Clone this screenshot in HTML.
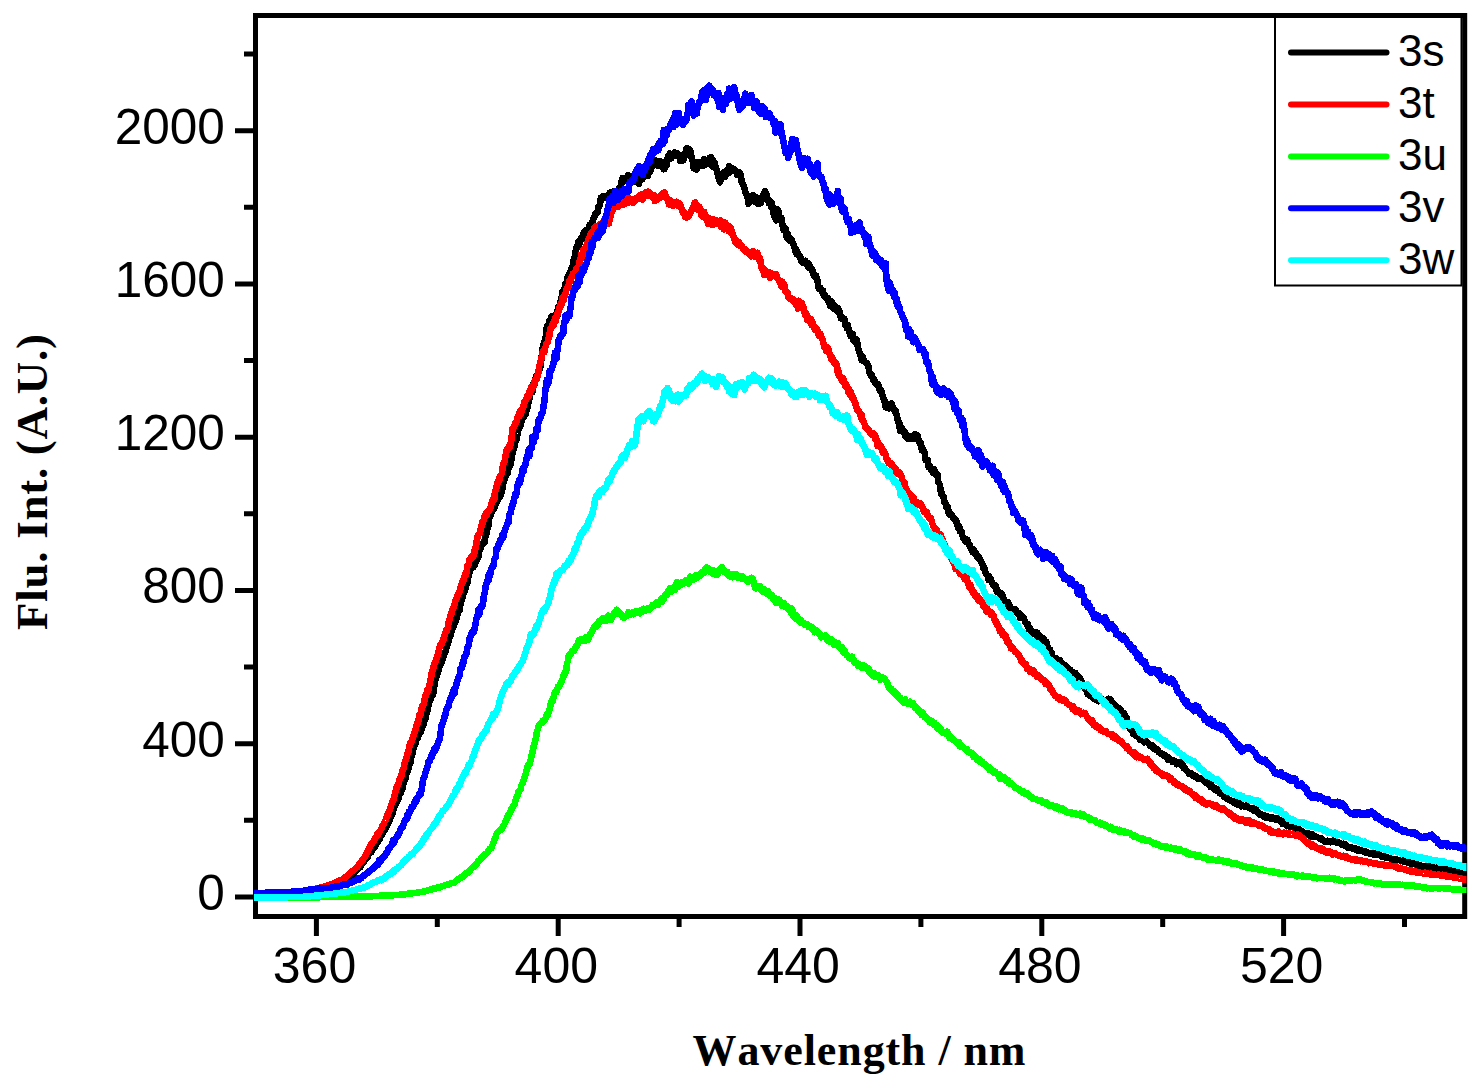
<!DOCTYPE html>
<html><head><meta charset="utf-8"><style>
html,body{margin:0;padding:0;background:#fff;width:1480px;height:1089px;overflow:hidden}
svg{display:block}
.t{font-family:"Liberation Sans",sans-serif;font-size:50px;fill:#000}
.b{font-family:"Liberation Serif",serif;font-weight:bold;font-size:45px;fill:#000;font-kerning:none}
</style></head><body>
<svg width="1480" height="1089" viewBox="0 0 1480 1089">
<defs><clipPath id="pc"><rect x="254" y="13" width="1212.5" height="905"/></clipPath></defs>

<rect x="255.5" y="15.5" width="1209.2" height="901" fill="none" stroke="#000" stroke-width="5"/>
<g clip-path="url(#pc)" fill="none" stroke-width="6.6" stroke-linejoin="round" stroke-linecap="round" shape-rendering="crispEdges">
<polyline stroke="#000000" points="255.0,893.8 255.8,893.9 256.5,893.8 257.2,893.6 258.0,893.8 258.8,893.7 259.5,893.6 260.2,893.7 261.0,893.7 261.8,893.6 262.5,893.6 263.2,893.6 264.0,893.4 264.8,893.5 265.5,893.4 266.2,893.6 267.0,893.5 267.8,893.4 268.5,893.3 269.2,893.4 270.0,893.4 270.8,893.3 271.5,893.5 272.2,893.4 273.0,892.9 273.8,893.0 274.5,893.2 275.2,893.2 276.0,893.2 276.8,893.2 277.5,893.4 278.2,893.0 279.0,893.1 279.8,893.4 280.5,893.2 281.2,893.1 282.0,892.9 282.8,892.8 283.5,893.0 284.2,893.0 285.0,892.8 285.8,892.8 286.5,892.9 287.2,892.7 288.0,892.8 288.8,892.8 289.5,892.8 290.2,892.7 291.0,892.8 291.8,892.9 292.5,892.8 293.2,892.6 294.0,892.8 294.8,892.6 295.5,892.8 296.2,892.4 297.0,892.7 297.8,892.6 298.5,892.4 299.2,892.5 300.0,892.5 300.8,892.4 301.5,892.2 302.2,892.0 303.0,892.2 303.8,892.0 304.5,892.0 305.2,892.0 306.0,891.5 306.8,891.7 307.5,891.8 308.2,891.4 309.0,891.2 309.8,891.4 310.5,891.2 311.2,891.3 312.0,890.9 312.8,890.6 313.5,890.8 314.2,890.6 315.0,890.8 315.8,890.6 316.5,890.1 317.2,890.1 318.0,890.4 318.8,890.3 319.5,889.9 320.2,889.9 321.0,889.8 321.8,889.5 322.5,889.3 323.2,889.0 324.0,888.6 324.8,888.4 325.5,888.4 326.2,887.4 327.0,887.6 327.8,887.4 328.5,886.8 329.2,887.0 330.0,886.5 330.8,886.6 331.5,886.1 332.2,886.0 333.0,885.8 333.8,885.3 334.5,884.7 335.2,884.1 336.0,884.7 336.8,883.8 337.5,883.3 338.2,883.2 339.0,882.8 339.8,882.7 340.5,882.2 341.2,881.8 342.0,881.3 342.8,881.3 343.5,880.5 344.2,880.7 345.0,880.6 345.8,879.3 346.5,878.7 347.2,879.3 348.0,879.2 348.8,877.4 349.5,876.6 350.2,876.5 351.0,875.4 351.8,874.8 352.5,874.2 353.2,873.8 354.0,872.8 354.8,872.3 355.5,871.5 356.2,870.6 357.0,870.1 357.8,869.2 358.5,868.8 359.2,867.7 360.0,866.7 360.8,866.7 361.5,865.0 362.2,864.0 363.0,863.2 363.8,861.8 364.5,860.8 365.2,860.1 366.0,859.0 366.8,857.3 367.5,857.2 368.2,855.5 369.0,854.2 369.8,853.3 370.5,852.5 371.2,852.4 372.0,850.0 372.8,849.6 373.5,847.5 374.2,847.5 375.0,846.9 375.8,845.1 376.5,843.6 377.2,842.8 378.0,841.7 378.8,840.4 379.5,839.8 380.2,837.5 381.0,835.8 381.8,834.7 382.5,833.5 383.2,832.3 384.0,830.9 384.8,829.7 385.5,827.3 386.2,827.5 387.0,825.3 387.8,823.6 388.5,823.0 389.2,821.5 390.0,819.1 390.8,817.0 391.5,814.4 392.2,815.1 393.0,811.9 393.8,808.6 394.5,807.0 395.2,805.7 396.0,802.7 396.8,802.0 397.5,799.8 398.2,799.3 399.0,797.4 399.8,793.0 400.5,793.3 401.2,790.3 402.0,790.4 402.8,786.4 403.5,783.4 404.2,779.1 405.0,779.5 405.8,777.8 406.5,773.4 407.2,772.7 408.0,769.9 408.8,768.2 409.5,764.2 410.2,763.9 411.0,758.6 411.8,756.1 412.5,753.7 413.2,749.7 414.0,747.0 414.8,744.8 415.5,743.3 416.2,740.5 417.0,739.3 417.8,737.6 418.5,735.7 419.2,734.4 420.0,732.4 420.8,731.7 421.5,729.0 422.2,727.5 423.0,725.4 423.8,723.4 424.5,720.2 425.2,719.4 426.0,715.3 426.8,713.1 427.5,710.5 428.2,706.8 429.0,702.5 429.8,699.2 430.5,700.0 431.2,698.1 432.0,694.8 432.8,695.3 433.5,692.2 434.2,687.3 435.0,681.1 435.8,678.3 436.5,676.2 437.2,671.8 438.0,673.0 438.8,668.3 439.5,665.5 440.2,666.1 441.0,663.2 441.8,662.2 442.5,659.6 443.2,657.7 444.0,655.9 444.8,652.6 445.5,652.0 446.2,648.5 447.0,645.5 447.8,644.1 448.5,642.1 449.2,638.8 450.0,635.8 450.8,635.4 451.5,630.5 452.2,629.2 453.0,628.4 453.8,624.6 454.5,624.1 455.2,621.9 456.0,621.0 456.8,616.6 457.5,614.6 458.2,612.7 459.0,606.2 459.8,610.0 460.5,602.6 461.2,600.0 462.0,599.5 462.8,595.9 463.5,591.3 464.2,592.2 465.0,590.4 465.8,586.6 466.5,584.7 467.2,583.5 468.0,577.9 468.8,575.9 469.5,572.1 470.2,569.8 471.0,567.7 471.8,568.1 472.5,566.1 473.2,567.4 474.0,565.2 474.8,564.9 475.5,562.9 476.2,561.9 477.0,558.6 477.8,558.1 478.5,557.1 479.2,551.7 480.0,549.0 480.8,548.0 481.5,546.0 482.2,544.2 483.0,543.8 483.8,541.7 484.5,542.5 485.2,537.6 486.0,535.0 486.8,532.8 487.5,527.8 488.2,526.5 489.0,519.8 489.8,516.4 490.5,515.2 491.2,513.8 492.0,510.1 492.8,510.2 493.5,506.0 494.2,508.8 495.0,505.4 495.8,503.4 496.5,501.7 497.2,501.2 498.0,500.2 498.8,497.8 499.5,496.7 500.2,496.5 501.0,493.4 501.8,491.8 502.5,488.3 503.2,483.6 504.0,481.8 504.8,476.6 505.5,477.1 506.2,473.7 507.0,472.8 507.8,472.8 508.5,465.3 509.2,467.4 510.0,463.7 510.8,464.6 511.5,457.8 512.2,454.2 513.0,451.3 513.8,449.4 514.5,446.1 515.2,442.3 516.0,440.1 516.8,438.6 517.5,433.5 518.2,427.2 519.0,429.2 519.8,426.5 520.5,425.2 521.2,421.2 522.0,421.2 522.8,416.7 523.5,417.8 524.2,414.6 525.0,414.9 525.8,413.9 526.5,409.6 527.2,409.2 528.0,404.7 528.8,401.7 529.5,398.0 530.2,392.8 531.0,393.4 531.8,391.9 532.5,392.1 533.2,383.8 534.0,383.6 534.8,384.6 535.5,378.1 536.2,376.3 537.0,377.1 537.8,375.6 538.5,370.5 539.2,370.2 540.0,367.1 540.8,366.4 541.5,357.6 542.2,353.5 543.0,345.2 543.8,343.6 544.5,341.3 545.2,340.9 546.0,334.7 546.8,326.9 547.5,327.3 548.2,325.6 549.0,322.2 549.8,320.1 550.5,319.7 551.2,316.6 552.0,319.5 552.8,319.2 553.5,316.8 554.2,319.2 555.0,315.1 555.8,316.1 556.5,315.5 557.2,316.7 558.0,307.4 558.8,308.1 559.5,305.7 560.2,302.1 561.0,301.7 561.8,296.0 562.5,291.9 563.2,295.2 564.0,289.2 564.8,288.2 565.5,283.7 566.2,284.1 567.0,281.0 567.8,276.5 568.5,277.7 569.2,274.5 570.0,272.2 570.8,270.8 571.5,268.5 572.2,268.1 573.0,264.2 573.8,259.7 574.5,258.9 575.2,252.3 576.0,250.2 576.8,246.6 577.5,247.0 578.2,242.3 579.0,245.4 579.8,241.4 580.5,239.7 581.2,237.6 582.0,238.7 582.8,236.4 583.5,233.0 584.2,231.8 585.0,231.7 585.8,230.3 586.5,232.5 587.2,231.9 588.0,229.8 588.8,227.7 589.5,225.0 590.2,224.8 591.0,225.2 591.8,226.2 592.5,222.4 593.2,218.6 594.0,217.7 594.8,215.2 595.5,213.1 596.2,212.8 597.0,211.7 597.8,212.2 598.5,206.2 599.2,206.0 600.0,204.0 600.8,197.9 601.5,199.7 602.2,198.2 603.0,196.3 603.8,197.8 604.5,197.6 605.2,197.3 606.0,197.6 606.8,197.8 607.5,197.8 608.2,194.8 609.0,196.0 609.8,192.6 610.5,195.5 611.2,195.7 612.0,194.3 612.8,194.0 613.5,194.1 614.2,191.1 615.0,191.4 615.8,192.3 616.5,192.7 617.2,191.0 618.0,194.7 618.8,189.0 619.5,189.7 620.2,188.4 621.0,183.9 621.8,180.7 622.5,178.2 623.2,179.6 624.0,181.5 624.8,179.9 625.5,179.7 626.2,178.6 627.0,180.5 627.8,175.2 628.5,179.9 629.2,179.5 630.0,176.8 630.8,183.7 631.5,176.8 632.2,177.4 633.0,177.3 633.8,181.9 634.5,178.1 635.2,181.3 636.0,181.2 636.8,180.7 637.5,177.8 638.2,179.2 639.0,183.8 639.8,177.8 640.5,177.9 641.2,178.4 642.0,179.5 642.8,177.5 643.5,177.7 644.2,173.3 645.0,176.5 645.8,174.9 646.5,169.9 647.2,175.2 648.0,175.8 648.8,169.0 649.5,169.8 650.2,171.6 651.0,165.2 651.8,163.3 652.5,163.9 653.2,164.5 654.0,163.7 654.8,165.2 655.5,163.9 656.2,160.6 657.0,163.9 657.8,166.1 658.5,164.4 659.2,163.7 660.0,161.4 660.8,164.4 661.5,161.7 662.2,166.2 663.0,165.7 663.8,169.2 664.5,169.0 665.2,165.8 666.0,165.6 666.8,165.1 667.5,157.9 668.2,156.4 669.0,155.4 669.8,153.6 670.5,158.1 671.2,158.4 672.0,157.0 672.8,155.5 673.5,154.5 674.2,154.7 675.0,152.4 675.8,155.3 676.5,155.2 677.2,155.8 678.0,153.8 678.8,155.9 679.5,156.3 680.2,161.0 681.0,158.7 681.8,154.9 682.5,158.4 683.2,160.4 684.0,157.0 684.8,156.5 685.5,153.8 686.2,148.9 687.0,148.2 687.8,148.4 688.5,149.6 689.2,149.5 690.0,150.5 690.8,152.0 691.5,158.1 692.2,159.2 693.0,161.9 693.8,168.5 694.5,168.6 695.2,165.4 696.0,167.9 696.8,169.5 697.5,162.5 698.2,167.1 699.0,166.4 699.8,163.5 700.5,162.7 701.2,163.9 702.0,163.0 702.8,165.8 703.5,163.5 704.2,159.0 705.0,159.9 705.8,162.4 706.5,164.2 707.2,160.6 708.0,159.9 708.8,162.4 709.5,158.1 710.2,158.4 711.0,157.2 711.8,160.1 712.5,166.4 713.2,160.3 714.0,164.2 714.8,162.4 715.5,166.5 716.2,169.1 717.0,169.7 717.8,174.5 718.5,177.2 719.2,179.5 720.0,182.3 720.8,179.4 721.5,176.2 722.2,174.5 723.0,173.1 723.8,174.7 724.5,172.1 725.2,177.0 726.0,174.2 726.8,169.9 727.5,169.6 728.2,173.4 729.0,166.2 729.8,168.9 730.5,171.5 731.2,167.7 732.0,168.4 732.8,168.4 733.5,170.3 734.2,169.1 735.0,170.4 735.8,171.8 736.5,171.8 737.2,174.9 738.0,172.3 738.8,172.0 739.5,172.4 740.2,173.7 741.0,176.8 741.8,182.5 742.5,183.5 743.2,184.6 744.0,186.4 744.8,189.8 745.5,192.4 746.2,194.3 747.0,194.9 747.8,199.0 748.5,203.8 749.2,197.2 750.0,200.4 750.8,196.4 751.5,200.3 752.2,198.1 753.0,195.0 753.8,198.8 754.5,201.6 755.2,198.4 756.0,201.6 756.8,200.4 757.5,197.6 758.2,203.8 759.0,203.3 759.8,200.5 760.5,203.3 761.2,200.9 762.0,197.8 762.8,199.0 763.5,194.1 764.2,195.5 765.0,191.0 765.8,195.3 766.5,193.7 767.2,200.2 768.0,199.3 768.8,203.1 769.5,200.3 770.2,202.7 771.0,207.2 771.8,202.3 772.5,207.5 773.2,213.5 774.0,214.4 774.8,217.3 775.5,216.8 776.2,220.5 777.0,217.7 777.8,209.5 778.5,211.4 779.2,216.1 780.0,218.5 780.8,220.9 781.5,217.8 782.2,223.2 783.0,227.4 783.8,230.1 784.5,229.6 785.2,230.1 786.0,228.6 786.8,237.8 787.5,233.1 788.2,239.4 789.0,240.3 789.8,239.0 790.5,238.7 791.2,241.3 792.0,240.1 792.8,244.0 793.5,244.8 794.2,247.0 795.0,249.1 795.8,252.1 796.5,250.0 797.2,254.5 798.0,253.0 798.8,254.6 799.5,256.2 800.2,256.3 801.0,260.6 801.8,261.2 802.5,262.5 803.2,260.9 804.0,262.1 804.8,261.3 805.5,260.9 806.2,264.5 807.0,264.9 807.8,263.2 808.5,267.3 809.2,264.0 810.0,267.9 810.8,268.1 811.5,269.3 812.2,269.3 813.0,274.0 813.8,274.3 814.5,276.4 815.2,275.6 816.0,275.5 816.8,279.7 817.5,280.8 818.2,286.2 819.0,288.8 819.8,288.5 820.5,288.1 821.2,289.7 822.0,292.0 822.8,290.3 823.5,294.5 824.2,295.8 825.0,295.4 825.8,296.6 826.5,298.5 827.2,297.7 828.0,298.6 828.8,302.4 829.5,302.4 830.2,305.9 831.0,302.1 831.8,301.6 832.5,307.4 833.2,308.3 834.0,306.2 834.8,305.7 835.5,309.1 836.2,307.0 837.0,310.4 837.8,308.0 838.5,312.3 839.2,309.9 840.0,314.1 840.8,318.0 841.5,316.1 842.2,319.1 843.0,317.9 843.8,318.7 844.5,318.9 845.2,324.5 846.0,323.9 846.8,328.0 847.5,324.6 848.2,327.8 849.0,329.8 849.8,333.6 850.5,335.8 851.2,333.1 852.0,333.8 852.8,334.1 853.5,340.7 854.2,339.6 855.0,340.0 855.8,342.4 856.5,339.5 857.2,342.2 858.0,348.8 858.8,350.4 859.5,352.5 860.2,353.0 861.0,357.4 861.8,360.4 862.5,356.4 863.2,359.5 864.0,359.7 864.8,362.0 865.5,362.4 866.2,363.2 867.0,362.9 867.8,365.4 868.5,366.6 869.2,371.5 870.0,373.4 870.8,375.7 871.5,374.8 872.2,376.4 873.0,379.8 873.8,378.8 874.5,379.9 875.2,382.8 876.0,383.0 876.8,383.8 877.5,385.2 878.2,383.9 879.0,387.8 879.8,390.9 880.5,391.7 881.2,390.3 882.0,395.3 882.8,395.4 883.5,398.6 884.2,401.2 885.0,401.1 885.8,407.2 886.5,405.7 887.2,407.3 888.0,407.1 888.8,408.4 889.5,408.3 890.2,404.2 891.0,406.8 891.8,403.4 892.5,406.3 893.2,408.3 894.0,408.8 894.8,411.1 895.5,410.7 896.2,414.0 897.0,415.9 897.8,420.1 898.5,422.8 899.2,422.0 900.0,430.8 900.8,427.1 901.5,427.6 902.2,430.2 903.0,431.5 903.8,432.2 904.5,431.4 905.2,435.7 906.0,434.5 906.8,437.9 907.5,438.7 908.2,435.6 909.0,437.1 909.8,436.9 910.5,438.6 911.2,438.0 912.0,438.0 912.8,436.1 913.5,437.7 914.2,438.9 915.0,434.3 915.8,435.8 916.5,436.2 917.2,435.3 918.0,436.7 918.8,441.6 919.5,442.7 920.2,444.0 921.0,443.4 921.8,449.9 922.5,448.9 923.2,449.3 924.0,451.6 924.8,453.6 925.5,459.8 926.2,459.2 927.0,461.2 927.8,460.1 928.5,466.8 929.2,465.6 930.0,466.3 930.8,469.7 931.5,468.2 932.2,471.5 933.0,472.7 933.8,469.0 934.5,472.3 935.2,470.9 936.0,473.9 936.8,476.1 937.5,474.5 938.2,482.5 939.0,482.7 939.8,484.7 940.5,489.6 941.2,494.2 942.0,492.8 942.8,496.7 943.5,496.5 944.2,502.1 945.0,502.5 945.8,503.5 946.5,507.4 947.2,505.9 948.0,509.0 948.8,513.4 949.5,511.8 950.2,515.1 951.0,514.6 951.8,514.6 952.5,516.4 953.2,518.1 954.0,518.6 954.8,519.2 955.5,520.5 956.2,520.8 957.0,524.5 957.8,526.4 958.5,528.5 959.2,526.4 960.0,531.6 960.8,531.9 961.5,531.5 962.2,535.1 963.0,537.4 963.8,538.0 964.5,539.4 965.2,540.7 966.0,541.7 966.8,541.4 967.5,539.7 968.2,542.5 969.0,545.1 969.8,545.0 970.5,547.6 971.2,548.8 972.0,548.8 972.8,552.4 973.5,549.5 974.2,553.2 975.0,552.3 975.8,553.0 976.5,555.9 977.2,555.3 978.0,558.3 978.8,556.6 979.5,559.4 980.2,559.8 981.0,562.1 981.8,563.4 982.5,563.9 983.2,567.8 984.0,566.8 984.8,568.7 985.5,572.6 986.2,574.2 987.0,575.3 987.8,576.3 988.5,579.8 989.2,576.4 990.0,578.0 990.8,578.7 991.5,582.2 992.2,582.5 993.0,584.6 993.8,585.5 994.5,585.0 995.2,585.3 996.0,586.1 996.8,591.4 997.5,591.1 998.2,591.8 999.0,591.8 999.8,593.2 1000.5,594.1 1001.2,595.2 1002.0,593.7 1002.8,597.7 1003.5,598.3 1004.2,600.2 1005.0,601.1 1005.8,603.0 1006.5,603.0 1007.2,605.0 1008.0,601.9 1008.8,604.8 1009.5,609.3 1010.2,606.7 1011.0,608.9 1011.8,610.6 1012.5,609.1 1013.2,611.5 1014.0,609.3 1014.8,609.2 1015.5,610.4 1016.2,610.4 1017.0,612.9 1017.8,612.9 1018.5,614.2 1019.2,613.0 1020.0,617.8 1020.8,615.0 1021.5,615.5 1022.2,616.8 1023.0,617.2 1023.8,617.9 1024.5,620.0 1025.2,622.2 1026.0,623.1 1026.8,624.6 1027.5,624.0 1028.2,624.9 1029.0,629.4 1029.8,628.0 1030.5,630.0 1031.2,631.5 1032.0,633.5 1032.8,631.4 1033.5,633.3 1034.2,633.8 1035.0,634.4 1035.8,632.3 1036.5,635.5 1037.2,632.7 1038.0,636.9 1038.8,637.6 1039.5,638.1 1040.2,636.5 1041.0,639.4 1041.8,637.8 1042.5,637.8 1043.2,638.5 1044.0,639.1 1044.8,641.6 1045.5,643.8 1046.2,641.8 1047.0,645.0 1047.8,648.1 1048.5,648.7 1049.2,650.4 1050.0,649.5 1050.8,653.7 1051.5,652.3 1052.2,655.7 1053.0,658.3 1053.8,659.5 1054.5,658.5 1055.2,659.5 1056.0,658.3 1056.8,659.0 1057.5,661.5 1058.2,660.7 1059.0,661.1 1059.8,660.3 1060.5,662.6 1061.2,663.7 1062.0,662.7 1062.8,663.6 1063.5,666.6 1064.2,665.7 1065.0,665.8 1065.8,665.6 1066.5,666.8 1067.2,667.8 1068.0,670.3 1068.8,668.7 1069.5,672.0 1070.2,669.7 1071.0,670.9 1071.8,672.8 1072.5,672.2 1073.2,672.1 1074.0,673.4 1074.8,674.6 1075.5,672.9 1076.2,675.0 1077.0,675.8 1077.8,676.0 1078.5,677.8 1079.2,677.0 1080.0,678.4 1080.8,680.1 1081.5,682.2 1082.2,682.5 1083.0,685.6 1083.8,684.4 1084.5,688.0 1085.2,687.0 1086.0,689.1 1086.8,690.9 1087.5,694.0 1088.2,694.1 1089.0,693.3 1089.8,695.7 1090.5,694.8 1091.2,694.8 1092.0,696.7 1092.8,696.9 1093.5,698.4 1094.2,697.5 1095.0,699.1 1095.8,699.9 1096.5,700.2 1097.2,700.3 1098.0,699.6 1098.8,701.2 1099.5,700.5 1100.2,700.9 1101.0,700.0 1101.8,700.4 1102.5,699.3 1103.2,700.5 1104.0,701.2 1104.8,700.5 1105.5,701.3 1106.2,700.8 1107.0,701.8 1107.8,700.3 1108.5,698.8 1109.2,700.9 1110.0,700.3 1110.8,699.6 1111.5,702.0 1112.2,702.5 1113.0,703.5 1113.8,703.5 1114.5,704.9 1115.2,705.8 1116.0,708.2 1116.8,706.5 1117.5,708.0 1118.2,709.2 1119.0,708.0 1119.8,708.9 1120.5,713.5 1121.2,710.4 1122.0,713.6 1122.8,713.0 1123.5,713.9 1124.2,713.6 1125.0,715.5 1125.8,718.1 1126.5,717.7 1127.2,721.3 1128.0,722.7 1128.8,726.0 1129.5,725.4 1130.2,728.7 1131.0,730.0 1131.8,730.6 1132.5,730.6 1133.2,734.0 1134.0,731.9 1134.8,733.3 1135.5,735.0 1136.2,735.8 1137.0,734.5 1137.8,735.8 1138.5,736.1 1139.2,738.0 1140.0,739.7 1140.8,736.2 1141.5,739.3 1142.2,736.4 1143.0,739.5 1143.8,739.0 1144.5,742.4 1145.2,741.2 1146.0,741.0 1146.8,741.7 1147.5,742.2 1148.2,743.4 1149.0,743.6 1149.8,744.9 1150.5,746.3 1151.2,746.1 1152.0,745.1 1152.8,745.3 1153.5,746.7 1154.2,749.0 1155.0,748.4 1155.8,748.7 1156.5,750.0 1157.2,749.3 1158.0,750.2 1158.8,752.3 1159.5,752.2 1160.2,752.6 1161.0,753.7 1161.8,753.5 1162.5,753.9 1163.2,754.6 1164.0,756.0 1164.8,756.0 1165.5,755.4 1166.2,756.7 1167.0,758.0 1167.8,759.6 1168.5,757.5 1169.2,759.3 1170.0,759.1 1170.8,760.4 1171.5,760.4 1172.2,761.6 1173.0,761.1 1173.8,760.5 1174.5,760.8 1175.2,761.9 1176.0,762.2 1176.8,764.2 1177.5,763.9 1178.2,761.9 1179.0,763.5 1179.8,762.4 1180.5,762.4 1181.2,764.8 1182.0,765.5 1182.8,765.1 1183.5,768.2 1184.2,767.0 1185.0,767.7 1185.8,770.1 1186.5,770.7 1187.2,771.3 1188.0,772.3 1188.8,773.4 1189.5,773.9 1190.2,774.2 1191.0,773.0 1191.8,773.7 1192.5,775.6 1193.2,774.8 1194.0,776.0 1194.8,776.8 1195.5,775.8 1196.2,776.6 1197.0,778.3 1197.8,777.4 1198.5,778.6 1199.2,778.6 1200.0,778.5 1200.8,778.3 1201.5,778.2 1202.2,778.5 1203.0,780.2 1203.8,780.7 1204.5,780.7 1205.2,782.0 1206.0,781.4 1206.8,783.2 1207.5,782.8 1208.2,783.3 1209.0,783.8 1209.8,784.3 1210.5,786.9 1211.2,784.4 1212.0,786.4 1212.8,787.8 1213.5,788.0 1214.2,787.9 1215.0,790.0 1215.8,788.5 1216.5,789.0 1217.2,791.0 1218.0,790.1 1218.8,790.1 1219.5,793.1 1220.2,793.5 1221.0,794.0 1221.8,793.7 1222.5,794.7 1223.2,794.4 1224.0,796.9 1224.8,796.8 1225.5,797.3 1226.2,795.9 1227.0,798.4 1227.8,799.4 1228.5,799.8 1229.2,800.0 1230.0,800.0 1230.8,800.3 1231.5,801.3 1232.2,801.4 1233.0,801.7 1233.8,801.6 1234.5,803.3 1235.2,801.6 1236.0,802.8 1236.8,802.7 1237.5,804.2 1238.2,804.8 1239.0,804.9 1239.8,804.9 1240.5,803.7 1241.2,806.5 1242.0,805.7 1242.8,805.6 1243.5,805.9 1244.2,805.9 1245.0,806.7 1245.8,806.9 1246.5,806.7 1247.2,805.4 1248.0,807.4 1248.8,808.0 1249.5,808.3 1250.2,808.0 1251.0,808.7 1251.8,809.4 1252.5,808.7 1253.2,810.4 1254.0,808.6 1254.8,809.5 1255.5,810.2 1256.2,809.7 1257.0,811.1 1257.8,813.1 1258.5,813.5 1259.2,813.2 1260.0,814.8 1260.8,814.2 1261.5,814.2 1262.2,815.2 1263.0,815.4 1263.8,816.4 1264.5,815.4 1265.2,817.5 1266.0,816.8 1266.8,817.7 1267.5,816.3 1268.2,817.1 1269.0,817.6 1269.8,818.2 1270.5,817.0 1271.2,818.9 1272.0,818.3 1272.8,817.7 1273.5,819.0 1274.2,818.4 1275.0,819.2 1275.8,820.0 1276.5,819.1 1277.2,818.5 1278.0,819.1 1278.8,820.2 1279.5,820.5 1280.2,820.3 1281.0,820.9 1281.8,822.3 1282.5,823.8 1283.2,821.2 1284.0,823.8 1284.8,823.7 1285.5,824.8 1286.2,825.4 1287.0,825.4 1287.8,825.0 1288.5,825.0 1289.2,824.9 1290.0,827.1 1290.8,826.4 1291.5,826.5 1292.2,826.9 1293.0,826.5 1293.8,827.7 1294.5,828.6 1295.2,828.7 1296.0,827.4 1296.8,829.4 1297.5,828.5 1298.2,828.3 1299.0,829.2 1299.8,829.8 1300.5,830.9 1301.2,830.8 1302.0,831.0 1302.8,832.2 1303.5,833.9 1304.2,832.7 1305.0,833.6 1305.8,833.6 1306.5,835.3 1307.2,832.9 1308.0,834.9 1308.8,833.7 1309.5,834.4 1310.2,834.9 1311.0,837.0 1311.8,834.9 1312.5,834.5 1313.2,836.6 1314.0,835.6 1314.8,836.1 1315.5,836.5 1316.2,836.8 1317.0,836.9 1317.8,837.4 1318.5,837.8 1319.2,838.5 1320.0,838.1 1320.8,838.3 1321.5,838.5 1322.2,839.8 1323.0,839.9 1323.8,840.6 1324.5,840.9 1325.2,841.9 1326.0,841.4 1326.8,841.8 1327.5,840.8 1328.2,841.0 1329.0,841.5 1329.8,841.1 1330.5,842.2 1331.2,841.2 1332.0,842.0 1332.8,840.7 1333.5,841.5 1334.2,842.0 1335.0,842.1 1335.8,841.4 1336.5,842.5 1337.2,843.0 1338.0,842.9 1338.8,842.5 1339.5,842.8 1340.2,842.8 1341.0,844.1 1341.8,844.8 1342.5,844.1 1343.2,843.8 1344.0,845.1 1344.8,845.6 1345.5,844.1 1346.2,845.9 1347.0,847.3 1347.8,846.9 1348.5,847.1 1349.2,847.3 1350.0,847.9 1350.8,847.2 1351.5,847.6 1352.2,848.5 1353.0,848.2 1353.8,848.9 1354.5,848.0 1355.2,849.5 1356.0,849.8 1356.8,849.6 1357.5,849.9 1358.2,850.9 1359.0,849.7 1359.8,850.1 1360.5,850.2 1361.2,850.7 1362.0,850.7 1362.8,851.4 1363.5,851.3 1364.2,851.1 1365.0,851.3 1365.8,852.9 1366.5,852.4 1367.2,852.5 1368.0,852.7 1368.8,852.8 1369.5,853.4 1370.2,853.4 1371.0,853.0 1371.8,853.1 1372.5,853.1 1373.2,853.2 1374.0,854.6 1374.8,853.6 1375.5,853.3 1376.2,854.0 1377.0,854.1 1377.8,854.8 1378.5,854.4 1379.2,855.2 1380.0,855.3 1380.8,856.0 1381.5,856.6 1382.2,857.2 1383.0,856.7 1383.8,855.8 1384.5,856.3 1385.2,856.9 1386.0,857.9 1386.8,857.5 1387.5,858.0 1388.2,857.6 1389.0,858.2 1389.8,858.4 1390.5,858.1 1391.2,858.9 1392.0,859.3 1392.8,859.0 1393.5,859.7 1394.2,860.1 1395.0,859.6 1395.8,859.7 1396.5,859.7 1397.2,859.7 1398.0,860.2 1398.8,860.1 1399.5,860.3 1400.2,860.2 1401.0,860.0 1401.8,860.4 1402.5,861.1 1403.2,860.6 1404.0,861.0 1404.8,862.2 1405.5,862.1 1406.2,861.4 1407.0,862.1 1407.8,861.8 1408.5,863.0 1409.2,862.3 1410.0,862.8 1410.8,863.6 1411.5,862.9 1412.2,864.0 1413.0,863.4 1413.8,864.0 1414.5,864.0 1415.2,864.3 1416.0,864.7 1416.8,864.8 1417.5,864.6 1418.2,865.6 1419.0,865.8 1419.8,866.3 1420.5,866.5 1421.2,865.6 1422.0,866.7 1422.8,866.8 1423.5,866.1 1424.2,866.8 1425.0,867.1 1425.8,866.3 1426.5,866.1 1427.2,866.6 1428.0,867.9 1428.8,866.9 1429.5,866.4 1430.2,866.9 1431.0,866.7 1431.8,867.0 1432.5,867.2 1433.2,866.3 1434.0,867.5 1434.8,868.0 1435.5,867.5 1436.2,867.6 1437.0,868.3 1437.8,867.5 1438.5,867.7 1439.2,867.8 1440.0,868.4 1440.8,868.8 1441.5,868.8 1442.2,869.2 1443.0,869.4 1443.8,869.4 1444.5,869.1 1445.2,869.5 1446.0,870.2 1446.8,869.5 1447.5,869.9 1448.2,870.0 1449.0,870.2 1449.8,870.0 1450.5,869.9 1451.2,871.5 1452.0,871.0 1452.8,870.5 1453.5,870.8 1454.2,871.1 1455.0,870.9 1455.8,871.3 1456.5,870.9 1457.2,871.1 1458.0,871.3 1458.8,871.3 1459.5,870.6 1460.2,871.6 1461.0,871.8 1461.8,872.0 1462.5,871.5 1463.2,872.1 1464.0,872.1 1464.8,871.5 1465.5,871.4"/>
<polyline stroke="#ff0000" points="255.0,893.8 255.8,893.7 256.5,893.7 257.2,893.4 258.0,893.9 258.8,893.8 259.5,893.6 260.2,893.7 261.0,893.6 261.8,893.5 262.5,893.7 263.2,893.5 264.0,893.4 264.8,893.4 265.5,893.5 266.2,893.4 267.0,893.4 267.8,893.3 268.5,893.3 269.2,893.2 270.0,893.4 270.8,893.3 271.5,893.3 272.2,893.2 273.0,893.0 273.8,893.2 274.5,893.4 275.2,892.9 276.0,892.8 276.8,892.8 277.5,893.1 278.2,893.0 279.0,893.1 279.8,893.0 280.5,892.9 281.2,892.9 282.0,892.8 282.8,892.9 283.5,892.6 284.2,892.7 285.0,892.8 285.8,893.0 286.5,892.6 287.2,892.5 288.0,892.5 288.8,892.7 289.5,892.5 290.2,892.7 291.0,892.3 291.8,892.7 292.5,892.6 293.2,892.2 294.0,892.4 294.8,892.6 295.5,892.4 296.2,892.5 297.0,892.7 297.8,892.3 298.5,892.2 299.2,892.1 300.0,892.3 300.8,892.0 301.5,891.9 302.2,891.7 303.0,891.7 303.8,891.2 304.5,891.0 305.2,890.7 306.0,891.1 306.8,890.8 307.5,890.9 308.2,890.5 309.0,890.2 309.8,890.2 310.5,890.0 311.2,889.6 312.0,889.5 312.8,889.8 313.5,889.4 314.2,889.3 315.0,889.0 315.8,888.7 316.5,888.9 317.2,888.5 318.0,888.2 318.8,888.1 319.5,887.7 320.2,887.7 321.0,887.7 321.8,887.1 322.5,887.4 323.2,886.7 324.0,886.7 324.8,886.3 325.5,886.2 326.2,886.0 327.0,885.7 327.8,885.5 328.5,885.3 329.2,885.0 330.0,884.6 330.8,884.6 331.5,884.4 332.2,884.2 333.0,883.8 333.8,884.0 334.5,883.1 335.2,882.6 336.0,882.8 336.8,881.8 337.5,882.0 338.2,881.1 339.0,881.1 339.8,880.2 340.5,880.6 341.2,880.0 342.0,879.5 342.8,879.9 343.5,879.2 344.2,878.3 345.0,877.4 345.8,877.0 346.5,876.3 347.2,875.9 348.0,875.3 348.8,874.2 349.5,873.6 350.2,872.9 351.0,872.0 351.8,871.6 352.5,871.1 353.2,870.7 354.0,870.3 354.8,868.9 355.5,868.7 356.2,867.6 357.0,867.6 357.8,865.9 358.5,865.1 359.2,863.6 360.0,862.8 360.8,862.2 361.5,861.0 362.2,860.4 363.0,858.7 363.8,858.7 364.5,857.1 365.2,856.8 366.0,854.5 366.8,853.6 367.5,851.0 368.2,850.3 369.0,848.2 369.8,846.9 370.5,845.7 371.2,844.4 372.0,843.6 372.8,842.6 373.5,841.4 374.2,839.9 375.0,838.1 375.8,837.2 376.5,836.4 377.2,834.2 378.0,834.5 378.8,832.6 379.5,831.3 380.2,830.6 381.0,829.2 381.8,827.6 382.5,825.6 383.2,825.1 384.0,823.6 384.8,821.1 385.5,820.5 386.2,818.4 387.0,815.2 387.8,814.7 388.5,812.0 389.2,811.5 390.0,809.3 390.8,806.0 391.5,804.1 392.2,802.7 393.0,800.2 393.8,798.9 394.5,795.8 395.2,792.6 396.0,790.7 396.8,786.7 397.5,786.1 398.2,784.3 399.0,781.3 399.8,778.8 400.5,777.5 401.2,776.4 402.0,772.9 402.8,769.7 403.5,769.2 404.2,763.9 405.0,763.0 405.8,759.4 406.5,757.9 407.2,754.0 408.0,753.3 408.8,749.9 409.5,745.8 410.2,743.3 411.0,742.5 411.8,741.6 412.5,738.4 413.2,736.1 414.0,733.5 414.8,731.9 415.5,729.2 416.2,726.8 417.0,723.2 417.8,722.7 418.5,720.3 419.2,715.4 420.0,716.2 420.8,712.6 421.5,709.3 422.2,705.8 423.0,706.0 423.8,703.8 424.5,700.0 425.2,696.2 426.0,696.3 426.8,692.0 427.5,689.5 428.2,690.3 429.0,687.1 429.8,683.4 430.5,679.2 431.2,677.0 432.0,670.8 432.8,670.0 433.5,666.9 434.2,664.1 435.0,661.6 435.8,661.6 436.5,658.7 437.2,656.3 438.0,654.5 438.8,650.1 439.5,647.4 440.2,645.0 441.0,644.8 441.8,644.2 442.5,641.4 443.2,640.5 444.0,636.6 444.8,635.2 445.5,632.6 446.2,629.8 447.0,631.0 447.8,627.6 448.5,622.9 449.2,620.1 450.0,618.0 450.8,613.9 451.5,614.1 452.2,610.1 453.0,609.2 453.8,606.4 454.5,605.1 455.2,601.9 456.0,599.3 456.8,597.7 457.5,595.7 458.2,593.9 459.0,592.0 459.8,591.5 460.5,588.3 461.2,584.8 462.0,583.7 462.8,580.2 463.5,581.0 464.2,578.1 465.0,574.0 465.8,574.7 466.5,573.0 467.2,566.2 468.0,566.1 468.8,563.9 469.5,559.6 470.2,558.7 471.0,557.3 471.8,557.6 472.5,555.8 473.2,557.1 474.0,551.8 474.8,552.2 475.5,548.2 476.2,544.8 477.0,539.3 477.8,535.7 478.5,534.6 479.2,534.1 480.0,532.6 480.8,528.8 481.5,526.2 482.2,521.9 483.0,522.6 483.8,519.9 484.5,516.3 485.2,515.8 486.0,513.4 486.8,515.5 487.5,512.9 488.2,511.1 489.0,510.6 489.8,509.5 490.5,507.3 491.2,504.4 492.0,502.0 492.8,499.0 493.5,499.7 494.2,499.7 495.0,491.2 495.8,490.4 496.5,487.4 497.2,482.9 498.0,482.6 498.8,479.0 499.5,480.3 500.2,475.9 501.0,475.0 501.8,473.3 502.5,468.8 503.2,463.9 504.0,462.7 504.8,460.9 505.5,455.9 506.2,452.6 507.0,449.0 507.8,449.1 508.5,448.4 509.2,445.8 510.0,446.9 510.8,442.3 511.5,439.5 512.2,429.5 513.0,430.1 513.8,426.3 514.5,425.8 515.2,423.0 516.0,422.7 516.8,420.8 517.5,417.0 518.2,416.6 519.0,416.5 519.8,411.6 520.5,414.3 521.2,412.6 522.0,410.9 522.8,407.3 523.5,406.2 524.2,402.1 525.0,402.0 525.8,399.2 526.5,398.3 527.2,396.2 528.0,396.1 528.8,396.2 529.5,391.2 530.2,393.4 531.0,387.7 531.8,386.1 532.5,388.0 533.2,386.8 534.0,385.6 534.8,380.5 535.5,381.1 536.2,379.5 537.0,379.4 537.8,374.8 538.5,372.0 539.2,365.8 540.0,363.6 540.8,360.1 541.5,358.9 542.2,353.1 543.0,351.3 543.8,351.7 544.5,351.8 545.2,347.7 546.0,345.8 546.8,342.9 547.5,342.5 548.2,338.8 549.0,337.8 549.8,332.7 550.5,328.9 551.2,327.9 552.0,325.6 552.8,323.5 553.5,325.9 554.2,323.5 555.0,318.5 555.8,321.5 556.5,317.1 557.2,313.3 558.0,313.6 558.8,311.0 559.5,308.0 560.2,304.3 561.0,305.7 561.8,304.3 562.5,297.7 563.2,301.1 564.0,299.0 564.8,295.0 565.5,293.8 566.2,290.9 567.0,287.8 567.8,286.7 568.5,287.7 569.2,281.1 570.0,282.1 570.8,280.1 571.5,276.9 572.2,276.2 573.0,273.4 573.8,273.2 574.5,273.5 575.2,272.9 576.0,269.6 576.8,275.2 577.5,267.9 578.2,268.0 579.0,264.8 579.8,260.8 580.5,259.9 581.2,254.6 582.0,256.5 582.8,254.9 583.5,249.9 584.2,252.2 585.0,248.0 585.8,252.6 586.5,245.9 587.2,243.7 588.0,240.1 588.8,239.0 589.5,238.2 590.2,235.3 591.0,232.8 591.8,232.4 592.5,232.5 593.2,234.5 594.0,228.2 594.8,229.4 595.5,227.9 596.2,226.1 597.0,225.8 597.8,225.8 598.5,228.0 599.2,225.8 600.0,224.6 600.8,226.0 601.5,224.8 602.2,223.2 603.0,223.7 603.8,220.9 604.5,222.9 605.2,222.0 606.0,219.8 606.8,217.7 607.5,221.9 608.2,218.8 609.0,223.4 609.8,215.8 610.5,216.5 611.2,212.3 612.0,211.5 612.8,210.6 613.5,205.8 614.2,206.1 615.0,206.3 615.8,206.0 616.5,206.7 617.2,207.2 618.0,206.7 618.8,205.4 619.5,204.1 620.2,202.5 621.0,203.0 621.8,203.1 622.5,205.1 623.2,202.9 624.0,201.1 624.8,204.2 625.5,201.4 626.2,201.2 627.0,201.9 627.8,202.9 628.5,197.5 629.2,199.6 630.0,201.6 630.8,200.4 631.5,199.3 632.2,199.6 633.0,202.7 633.8,199.1 634.5,200.9 635.2,200.7 636.0,198.2 636.8,199.5 637.5,197.6 638.2,197.0 639.0,195.8 639.8,199.1 640.5,196.5 641.2,195.9 642.0,194.6 642.8,199.6 643.5,197.3 644.2,195.5 645.0,194.1 645.8,192.3 646.5,195.3 647.2,195.0 648.0,191.6 648.8,196.0 649.5,195.9 650.2,193.3 651.0,194.6 651.8,195.4 652.5,197.0 653.2,197.1 654.0,194.9 654.8,201.1 655.5,199.1 656.2,200.4 657.0,200.1 657.8,197.1 658.5,197.7 659.2,198.1 660.0,197.8 660.8,195.8 661.5,194.6 662.2,195.4 663.0,193.5 663.8,194.2 664.5,192.4 665.2,197.0 666.0,195.9 666.8,197.6 667.5,199.3 668.2,200.8 669.0,204.4 669.8,202.3 670.5,200.2 671.2,203.8 672.0,203.4 672.8,206.0 673.5,204.9 674.2,204.6 675.0,204.7 675.8,204.2 676.5,201.8 677.2,203.6 678.0,204.5 678.8,206.4 679.5,203.4 680.2,204.2 681.0,207.3 681.8,208.6 682.5,211.8 683.2,211.4 684.0,211.7 684.8,215.5 685.5,217.2 686.2,215.0 687.0,217.4 687.8,215.6 688.5,216.8 689.2,214.2 690.0,213.7 690.8,211.5 691.5,210.4 692.2,208.8 693.0,208.2 693.8,206.0 694.5,202.9 695.2,202.5 696.0,207.9 696.8,209.1 697.5,206.7 698.2,209.4 699.0,206.6 699.8,207.4 700.5,210.6 701.2,214.6 702.0,211.0 702.8,212.3 703.5,217.3 704.2,211.9 705.0,217.1 705.8,217.6 706.5,217.1 707.2,218.6 708.0,223.6 708.8,217.8 709.5,219.9 710.2,220.8 711.0,220.8 711.8,219.8 712.5,225.1 713.2,222.8 714.0,219.4 714.8,221.4 715.5,223.5 716.2,223.6 717.0,220.4 717.8,222.9 718.5,223.6 719.2,224.0 720.0,224.1 720.8,220.4 721.5,227.0 722.2,224.3 723.0,227.3 723.8,229.4 724.5,224.3 725.2,222.6 726.0,226.8 726.8,225.7 727.5,226.0 728.2,225.7 729.0,231.3 729.8,228.3 730.5,227.3 731.2,230.2 732.0,231.0 732.8,235.4 733.5,236.4 734.2,237.3 735.0,241.6 735.8,240.0 736.5,242.9 737.2,244.3 738.0,242.0 738.8,242.0 739.5,244.0 740.2,245.7 741.0,245.2 741.8,246.4 742.5,247.1 743.2,248.7 744.0,250.2 744.8,248.9 745.5,250.3 746.2,251.7 747.0,250.7 747.8,252.3 748.5,253.3 749.2,252.6 750.0,251.8 750.8,251.8 751.5,256.3 752.2,254.8 753.0,251.4 753.8,251.9 754.5,256.5 755.2,255.9 756.0,253.5 756.8,255.4 757.5,252.7 758.2,257.1 759.0,260.2 759.8,257.6 760.5,261.3 761.2,266.1 762.0,268.7 762.8,267.8 763.5,271.4 764.2,275.2 765.0,272.0 765.8,270.5 766.5,272.8 767.2,272.4 768.0,275.4 768.8,273.6 769.5,272.1 770.2,277.8 771.0,273.1 771.8,275.0 772.5,275.6 773.2,276.0 774.0,275.2 774.8,276.2 775.5,275.7 776.2,274.4 777.0,277.5 777.8,278.5 778.5,279.5 779.2,281.0 780.0,280.8 780.8,285.1 781.5,286.7 782.2,281.7 783.0,286.6 783.8,286.7 784.5,284.8 785.2,291.1 786.0,290.6 786.8,292.1 787.5,292.8 788.2,296.8 789.0,298.2 789.8,297.7 790.5,299.1 791.2,298.5 792.0,299.6 792.8,298.9 793.5,300.9 794.2,300.4 795.0,302.9 795.8,304.4 796.5,304.2 797.2,305.9 798.0,308.6 798.8,300.8 799.5,304.6 800.2,303.8 801.0,304.2 801.8,302.9 802.5,305.4 803.2,306.3 804.0,309.5 804.8,313.9 805.5,315.2 806.2,313.2 807.0,319.7 807.8,318.3 808.5,318.2 809.2,321.1 810.0,320.4 810.8,318.8 811.5,324.7 812.2,321.4 813.0,324.6 813.8,326.1 814.5,329.1 815.2,329.8 816.0,329.2 816.8,328.7 817.5,330.2 818.2,333.6 819.0,335.8 819.8,334.7 820.5,333.8 821.2,337.6 822.0,337.9 822.8,340.4 823.5,343.1 824.2,346.9 825.0,347.5 825.8,349.7 826.5,351.2 827.2,351.1 828.0,347.6 828.8,349.7 829.5,353.7 830.2,354.4 831.0,359.0 831.8,356.8 832.5,357.9 833.2,361.0 834.0,362.5 834.8,361.9 835.5,364.3 836.2,363.2 837.0,365.2 837.8,373.1 838.5,371.4 839.2,376.2 840.0,377.1 840.8,378.5 841.5,380.0 842.2,380.7 843.0,377.8 843.8,380.8 844.5,382.7 845.2,386.3 846.0,384.4 846.8,386.3 847.5,388.1 848.2,392.0 849.0,389.3 849.8,390.9 850.5,395.4 851.2,392.7 852.0,398.0 852.8,398.3 853.5,398.0 854.2,401.3 855.0,401.9 855.8,405.2 856.5,407.0 857.2,410.3 858.0,409.7 858.8,411.5 859.5,412.1 860.2,414.6 861.0,417.8 861.8,415.0 862.5,420.5 863.2,420.3 864.0,422.8 864.8,424.8 865.5,427.2 866.2,427.8 867.0,427.8 867.8,429.7 868.5,430.1 869.2,430.7 870.0,432.1 870.8,434.0 871.5,433.8 872.2,434.7 873.0,433.4 873.8,436.0 874.5,434.4 875.2,439.0 876.0,437.4 876.8,442.0 877.5,445.8 878.2,442.2 879.0,446.0 879.8,446.0 880.5,445.9 881.2,446.8 882.0,450.2 882.8,452.7 883.5,452.5 884.2,451.2 885.0,453.2 885.8,455.7 886.5,459.3 887.2,459.2 888.0,460.6 888.8,463.2 889.5,462.5 890.2,464.0 891.0,465.1 891.8,463.6 892.5,467.6 893.2,468.2 894.0,469.8 894.8,467.5 895.5,468.8 896.2,472.0 897.0,471.9 897.8,474.1 898.5,471.7 899.2,473.9 900.0,473.5 900.8,475.6 901.5,476.4 902.2,479.7 903.0,482.4 903.8,483.8 904.5,482.4 905.2,488.1 906.0,489.4 906.8,489.3 907.5,491.5 908.2,494.6 909.0,496.0 909.8,495.2 910.5,494.3 911.2,497.6 912.0,498.1 912.8,501.8 913.5,497.4 914.2,503.2 915.0,502.8 915.8,501.5 916.5,504.0 917.2,502.6 918.0,504.4 918.8,502.8 919.5,504.5 920.2,503.7 921.0,503.6 921.8,506.3 922.5,506.9 923.2,509.6 924.0,511.7 924.8,510.9 925.5,512.3 926.2,513.6 927.0,512.3 927.8,516.0 928.5,516.8 929.2,517.9 930.0,517.6 930.8,517.6 931.5,521.0 932.2,523.0 933.0,525.6 933.8,526.6 934.5,528.2 935.2,528.1 936.0,530.3 936.8,529.8 937.5,532.1 938.2,533.8 939.0,537.3 939.8,535.4 940.5,534.7 941.2,539.4 942.0,538.3 942.8,540.9 943.5,542.2 944.2,543.1 945.0,547.6 945.8,548.4 946.5,548.5 947.2,551.0 948.0,552.0 948.8,554.7 949.5,554.8 950.2,555.7 951.0,557.2 951.8,558.9 952.5,561.1 953.2,561.0 954.0,563.4 954.8,565.4 955.5,569.1 956.2,568.5 957.0,564.7 957.8,568.6 958.5,569.6 959.2,571.4 960.0,573.8 960.8,573.6 961.5,570.8 962.2,574.8 963.0,575.4 963.8,576.7 964.5,578.7 965.2,576.6 966.0,580.1 966.8,578.1 967.5,581.6 968.2,583.3 969.0,586.9 969.8,584.7 970.5,584.9 971.2,589.0 972.0,588.8 972.8,592.8 973.5,591.4 974.2,592.6 975.0,596.0 975.8,595.5 976.5,597.5 977.2,595.5 978.0,600.0 978.8,598.3 979.5,600.9 980.2,599.6 981.0,599.9 981.8,602.3 982.5,603.7 983.2,606.2 984.0,605.6 984.8,606.9 985.5,607.8 986.2,611.5 987.0,607.8 987.8,611.1 988.5,610.3 989.2,611.7 990.0,611.6 990.8,614.5 991.5,612.6 992.2,613.4 993.0,615.9 993.8,616.3 994.5,619.8 995.2,621.4 996.0,621.0 996.8,624.1 997.5,623.9 998.2,626.0 999.0,627.5 999.8,631.0 1000.5,630.2 1001.2,630.4 1002.0,631.6 1002.8,635.1 1003.5,633.1 1004.2,635.6 1005.0,636.9 1005.8,635.9 1006.5,639.2 1007.2,642.0 1008.0,642.4 1008.8,642.2 1009.5,645.0 1010.2,645.8 1011.0,648.4 1011.8,646.4 1012.5,647.8 1013.2,649.3 1014.0,650.1 1014.8,651.4 1015.5,652.2 1016.2,652.5 1017.0,652.6 1017.8,654.7 1018.5,654.8 1019.2,656.2 1020.0,657.7 1020.8,659.8 1021.5,661.2 1022.2,660.2 1023.0,662.6 1023.8,664.1 1024.5,664.2 1025.2,663.6 1026.0,664.1 1026.8,668.1 1027.5,669.2 1028.2,669.5 1029.0,668.6 1029.8,671.7 1030.5,671.9 1031.2,671.1 1032.0,671.4 1032.8,670.2 1033.5,673.4 1034.2,671.5 1035.0,674.4 1035.8,674.9 1036.5,674.8 1037.2,676.8 1038.0,675.3 1038.8,676.9 1039.5,677.7 1040.2,677.7 1041.0,677.6 1041.8,679.9 1042.5,679.7 1043.2,679.7 1044.0,680.3 1044.8,681.2 1045.5,683.9 1046.2,682.3 1047.0,683.2 1047.8,683.6 1048.5,684.6 1049.2,685.2 1050.0,688.5 1050.8,689.5 1051.5,689.6 1052.2,690.4 1053.0,692.7 1053.8,693.8 1054.5,694.2 1055.2,696.2 1056.0,696.5 1056.8,696.7 1057.5,697.9 1058.2,697.0 1059.0,699.3 1059.8,697.5 1060.5,699.4 1061.2,699.9 1062.0,699.5 1062.8,700.5 1063.5,699.4 1064.2,699.6 1065.0,701.3 1065.8,701.2 1066.5,703.0 1067.2,703.1 1068.0,704.2 1068.8,704.6 1069.5,705.1 1070.2,705.6 1071.0,705.8 1071.8,706.4 1072.5,709.3 1073.2,706.4 1074.0,708.5 1074.8,710.3 1075.5,710.3 1076.2,711.8 1077.0,711.4 1077.8,710.1 1078.5,711.3 1079.2,710.7 1080.0,713.3 1080.8,714.1 1081.5,712.7 1082.2,714.0 1083.0,713.5 1083.8,712.9 1084.5,714.2 1085.2,713.5 1086.0,714.8 1086.8,716.5 1087.5,717.8 1088.2,719.3 1089.0,718.7 1089.8,720.1 1090.5,721.2 1091.2,722.2 1092.0,720.0 1092.8,722.8 1093.5,725.1 1094.2,724.3 1095.0,726.0 1095.8,727.0 1096.5,725.1 1097.2,727.1 1098.0,728.0 1098.8,728.3 1099.5,727.4 1100.2,729.6 1101.0,729.3 1101.8,731.0 1102.5,731.2 1103.2,730.8 1104.0,731.9 1104.8,731.5 1105.5,731.8 1106.2,731.4 1107.0,732.9 1107.8,734.1 1108.5,733.8 1109.2,734.0 1110.0,733.8 1110.8,734.2 1111.5,735.7 1112.2,734.1 1113.0,737.4 1113.8,735.9 1114.5,738.2 1115.2,737.6 1116.0,736.8 1116.8,738.5 1117.5,738.8 1118.2,739.7 1119.0,740.7 1119.8,740.3 1120.5,741.0 1121.2,741.9 1122.0,741.9 1122.8,743.5 1123.5,744.7 1124.2,745.4 1125.0,746.1 1125.8,746.4 1126.5,748.1 1127.2,746.5 1128.0,748.6 1128.8,749.3 1129.5,750.9 1130.2,751.4 1131.0,752.1 1131.8,752.1 1132.5,753.4 1133.2,752.5 1134.0,754.0 1134.8,752.8 1135.5,756.5 1136.2,757.1 1137.0,755.9 1137.8,756.3 1138.5,755.8 1139.2,756.5 1140.0,758.1 1140.8,758.1 1141.5,757.3 1142.2,758.3 1143.0,758.5 1143.8,759.6 1144.5,760.0 1145.2,759.6 1146.0,760.1 1146.8,760.2 1147.5,758.8 1148.2,761.0 1149.0,761.7 1149.8,763.2 1150.5,762.1 1151.2,765.0 1152.0,764.8 1152.8,766.4 1153.5,768.1 1154.2,766.9 1155.0,767.9 1155.8,770.6 1156.5,769.8 1157.2,770.3 1158.0,771.9 1158.8,771.6 1159.5,772.7 1160.2,772.8 1161.0,772.9 1161.8,774.0 1162.5,775.3 1163.2,774.0 1164.0,775.5 1164.8,775.7 1165.5,775.3 1166.2,775.9 1167.0,775.5 1167.8,776.3 1168.5,777.6 1169.2,777.9 1170.0,779.5 1170.8,778.2 1171.5,779.6 1172.2,779.9 1173.0,780.9 1173.8,782.4 1174.5,781.3 1175.2,783.3 1176.0,782.8 1176.8,783.5 1177.5,784.9 1178.2,784.5 1179.0,785.7 1179.8,785.8 1180.5,786.0 1181.2,786.4 1182.0,785.9 1182.8,787.1 1183.5,788.3 1184.2,788.8 1185.0,788.1 1185.8,790.3 1186.5,790.5 1187.2,789.7 1188.0,790.4 1188.8,792.0 1189.5,790.9 1190.2,792.1 1191.0,793.1 1191.8,793.6 1192.5,794.1 1193.2,794.9 1194.0,794.6 1194.8,795.4 1195.5,797.7 1196.2,796.0 1197.0,797.2 1197.8,798.2 1198.5,798.3 1199.2,800.1 1200.0,800.0 1200.8,801.0 1201.5,799.4 1202.2,802.5 1203.0,802.9 1203.8,801.9 1204.5,803.4 1205.2,803.0 1206.0,803.6 1206.8,804.4 1207.5,803.5 1208.2,803.0 1209.0,803.9 1209.8,803.3 1210.5,803.8 1211.2,804.1 1212.0,804.3 1212.8,805.8 1213.5,805.8 1214.2,804.9 1215.0,806.5 1215.8,805.0 1216.5,806.0 1217.2,806.6 1218.0,807.8 1218.8,807.8 1219.5,808.0 1220.2,808.8 1221.0,808.8 1221.8,809.5 1222.5,808.5 1223.2,808.2 1224.0,809.3 1224.8,810.4 1225.5,810.4 1226.2,811.3 1227.0,811.8 1227.8,812.3 1228.5,813.1 1229.2,812.8 1230.0,814.6 1230.8,813.9 1231.5,815.1 1232.2,814.9 1233.0,816.7 1233.8,816.1 1234.5,818.5 1235.2,817.5 1236.0,818.9 1236.8,818.8 1237.5,818.6 1238.2,820.0 1239.0,819.2 1239.8,820.5 1240.5,819.3 1241.2,819.6 1242.0,819.0 1242.8,820.8 1243.5,821.2 1244.2,820.9 1245.0,820.9 1245.8,820.6 1246.5,822.8 1247.2,822.0 1248.0,820.7 1248.8,821.7 1249.5,820.6 1250.2,823.3 1251.0,823.7 1251.8,823.6 1252.5,823.0 1253.2,822.9 1254.0,822.6 1254.8,823.9 1255.5,823.4 1256.2,823.8 1257.0,823.9 1257.8,824.3 1258.5,825.2 1259.2,825.9 1260.0,825.2 1260.8,825.4 1261.5,825.2 1262.2,825.6 1263.0,826.1 1263.8,827.6 1264.5,827.7 1265.2,828.5 1266.0,828.6 1266.8,828.6 1267.5,828.6 1268.2,829.5 1269.0,829.3 1269.8,831.6 1270.5,831.1 1271.2,831.2 1272.0,832.9 1272.8,831.7 1273.5,832.4 1274.2,832.1 1275.0,832.4 1275.8,832.1 1276.5,832.7 1277.2,833.3 1278.0,831.9 1278.8,831.5 1279.5,833.6 1280.2,833.0 1281.0,833.5 1281.8,833.0 1282.5,834.1 1283.2,834.3 1284.0,832.8 1284.8,833.9 1285.5,833.3 1286.2,832.8 1287.0,833.6 1287.8,834.2 1288.5,833.2 1289.2,833.4 1290.0,834.8 1290.8,834.2 1291.5,834.5 1292.2,833.8 1293.0,834.1 1293.8,834.7 1294.5,834.8 1295.2,834.8 1296.0,835.7 1296.8,835.0 1297.5,834.2 1298.2,834.7 1299.0,835.5 1299.8,836.9 1300.5,836.5 1301.2,837.2 1302.0,838.1 1302.8,838.3 1303.5,838.9 1304.2,839.8 1305.0,841.1 1305.8,841.5 1306.5,841.7 1307.2,842.7 1308.0,842.4 1308.8,844.2 1309.5,844.7 1310.2,845.1 1311.0,844.7 1311.8,846.8 1312.5,844.6 1313.2,845.9 1314.0,846.2 1314.8,847.3 1315.5,846.5 1316.2,847.7 1317.0,847.8 1317.8,848.0 1318.5,848.9 1319.2,849.5 1320.0,849.3 1320.8,849.2 1321.5,848.6 1322.2,850.7 1323.0,850.1 1323.8,849.7 1324.5,850.9 1325.2,851.8 1326.0,851.3 1326.8,851.0 1327.5,852.8 1328.2,852.3 1329.0,852.4 1329.8,852.9 1330.5,851.7 1331.2,852.9 1332.0,853.0 1332.8,854.4 1333.5,853.3 1334.2,853.5 1335.0,853.4 1335.8,853.9 1336.5,854.4 1337.2,854.8 1338.0,854.8 1338.8,856.0 1339.5,855.6 1340.2,855.9 1341.0,856.4 1341.8,856.3 1342.5,856.0 1343.2,855.8 1344.0,856.9 1344.8,856.6 1345.5,857.8 1346.2,857.1 1347.0,856.7 1347.8,857.9 1348.5,858.6 1349.2,858.2 1350.0,858.6 1350.8,858.8 1351.5,859.7 1352.2,859.3 1353.0,859.3 1353.8,859.2 1354.5,859.0 1355.2,860.4 1356.0,860.4 1356.8,859.7 1357.5,860.5 1358.2,860.5 1359.0,860.4 1359.8,860.5 1360.5,861.1 1361.2,860.5 1362.0,860.9 1362.8,861.2 1363.5,861.4 1364.2,861.5 1365.0,861.8 1365.8,862.1 1366.5,861.6 1367.2,862.2 1368.0,862.1 1368.8,863.1 1369.5,862.0 1370.2,862.7 1371.0,863.2 1371.8,863.0 1372.5,863.1 1373.2,863.2 1374.0,863.7 1374.8,863.2 1375.5,863.8 1376.2,864.0 1377.0,863.6 1377.8,864.4 1378.5,864.3 1379.2,864.7 1380.0,865.1 1380.8,864.9 1381.5,864.4 1382.2,865.1 1383.0,864.4 1383.8,864.8 1384.5,865.8 1385.2,865.3 1386.0,865.9 1386.8,865.3 1387.5,865.5 1388.2,865.1 1389.0,866.0 1389.8,865.6 1390.5,866.0 1391.2,866.0 1392.0,866.1 1392.8,866.1 1393.5,866.1 1394.2,866.4 1395.0,866.3 1395.8,866.0 1396.5,867.2 1397.2,868.0 1398.0,867.9 1398.8,868.6 1399.5,868.1 1400.2,867.8 1401.0,868.0 1401.8,868.9 1402.5,869.0 1403.2,869.0 1404.0,869.5 1404.8,869.2 1405.5,869.9 1406.2,869.8 1407.0,870.2 1407.8,870.7 1408.5,870.4 1409.2,871.1 1410.0,871.2 1410.8,870.6 1411.5,871.9 1412.2,870.8 1413.0,871.3 1413.8,871.8 1414.5,870.9 1415.2,872.2 1416.0,872.3 1416.8,872.1 1417.5,872.3 1418.2,872.5 1419.0,872.5 1419.8,873.0 1420.5,872.7 1421.2,872.9 1422.0,873.1 1422.8,873.4 1423.5,873.5 1424.2,872.8 1425.0,872.6 1425.8,873.4 1426.5,873.5 1427.2,873.2 1428.0,873.7 1428.8,873.9 1429.5,873.9 1430.2,874.4 1431.0,873.6 1431.8,874.0 1432.5,874.7 1433.2,874.4 1434.0,873.9 1434.8,874.4 1435.5,874.8 1436.2,875.2 1437.0,874.9 1437.8,875.2 1438.5,874.5 1439.2,874.9 1440.0,875.5 1440.8,874.9 1441.5,875.3 1442.2,874.9 1443.0,876.0 1443.8,875.7 1444.5,876.0 1445.2,875.4 1446.0,875.6 1446.8,876.7 1447.5,876.2 1448.2,876.2 1449.0,876.7 1449.8,876.8 1450.5,876.2 1451.2,876.7 1452.0,877.1 1452.8,877.2 1453.5,877.5 1454.2,877.4 1455.0,877.6 1455.8,877.9 1456.5,877.8 1457.2,877.9 1458.0,878.1 1458.8,878.4 1459.5,878.5 1460.2,878.5 1461.0,878.8 1461.8,879.0 1462.5,879.2 1463.2,879.4 1464.0,879.0 1464.8,879.8 1465.5,879.2"/>
<polyline stroke="#00ff00" points="255.0,897.5 255.8,897.5 256.5,897.5 257.2,897.5 258.0,897.5 258.8,897.5 259.5,897.5 260.2,897.5 261.0,897.5 261.8,897.5 262.5,897.5 263.2,897.5 264.0,897.5 264.8,897.5 265.5,897.5 266.2,897.5 267.0,897.5 267.8,897.5 268.5,897.5 269.2,897.5 270.0,897.4 270.8,897.4 271.5,897.4 272.2,897.4 273.0,897.4 273.8,897.4 274.5,897.4 275.2,897.4 276.0,897.4 276.8,897.4 277.5,897.4 278.2,897.4 279.0,897.4 279.8,897.4 280.5,897.4 281.2,897.4 282.0,897.4 282.8,897.4 283.5,897.4 284.2,897.4 285.0,897.4 285.8,897.4 286.5,897.4 287.2,897.4 288.0,897.4 288.8,897.4 289.5,897.4 290.2,897.4 291.0,897.4 291.8,897.4 292.5,897.4 293.2,897.4 294.0,897.4 294.8,897.4 295.5,897.4 296.2,897.4 297.0,897.4 297.8,897.3 298.5,897.3 299.2,897.3 300.0,897.3 300.8,897.3 301.5,897.3 302.2,897.3 303.0,897.3 303.8,897.3 304.5,897.3 305.2,897.3 306.0,897.3 306.8,897.3 307.5,897.3 308.2,897.3 309.0,897.3 309.8,897.3 310.5,897.3 311.2,897.3 312.0,897.3 312.8,897.3 313.5,897.3 314.2,897.3 315.0,897.2 315.8,897.2 316.5,897.2 317.2,897.2 318.0,897.2 318.8,897.2 319.5,897.2 320.2,897.2 321.0,897.1 321.8,897.1 322.5,897.1 323.2,897.1 324.0,897.1 324.8,897.1 325.5,897.1 326.2,897.0 327.0,897.0 327.8,897.0 328.5,897.0 329.2,897.0 330.0,897.0 330.8,897.0 331.5,896.9 332.2,896.9 333.0,896.9 333.8,896.9 334.5,896.9 335.2,896.9 336.0,896.9 336.8,896.9 337.5,896.9 338.2,896.9 339.0,896.8 339.8,896.8 340.5,896.8 341.2,896.8 342.0,896.7 342.8,896.8 343.5,896.8 344.2,896.7 345.0,896.7 345.8,896.7 346.5,896.7 347.2,896.7 348.0,896.7 348.8,896.6 349.5,896.6 350.2,896.6 351.0,896.7 351.8,896.6 352.5,896.6 353.2,896.5 354.0,896.5 354.8,896.5 355.5,896.6 356.2,896.5 357.0,896.5 357.8,896.4 358.5,896.5 359.2,896.4 360.0,896.4 360.8,896.4 361.5,896.5 362.2,896.4 363.0,896.3 363.8,896.3 364.5,896.3 365.2,896.4 366.0,896.4 366.8,896.3 367.5,896.3 368.2,896.3 369.0,896.3 369.8,896.2 370.5,896.2 371.2,896.2 372.0,896.2 372.8,896.2 373.5,896.1 374.2,896.1 375.0,896.1 375.8,896.0 376.5,896.0 377.2,896.0 378.0,896.0 378.8,896.0 379.5,895.7 380.2,895.9 381.0,895.7 381.8,895.7 382.5,895.8 383.2,895.7 384.0,895.7 384.8,895.6 385.5,895.7 386.2,895.5 387.0,895.5 387.8,895.5 388.5,895.3 389.2,895.5 390.0,895.4 390.8,895.5 391.5,895.2 392.2,895.2 393.0,895.2 393.8,895.2 394.5,895.0 395.2,895.1 396.0,895.0 396.8,895.1 397.5,894.9 398.2,895.0 399.0,894.8 399.8,894.7 400.5,894.7 401.2,894.6 402.0,894.7 402.8,894.7 403.5,894.5 404.2,894.5 405.0,894.5 405.8,894.2 406.5,894.1 407.2,894.0 408.0,893.7 408.8,893.9 409.5,893.5 410.2,893.7 411.0,893.5 411.8,893.6 412.5,893.3 413.2,893.1 414.0,893.2 414.8,892.9 415.5,892.9 416.2,892.8 417.0,892.7 417.8,892.6 418.5,892.4 419.2,892.4 420.0,892.0 420.8,892.2 421.5,891.9 422.2,892.2 423.0,892.1 423.8,891.5 424.5,891.7 425.2,891.4 426.0,891.0 426.8,891.0 427.5,890.6 428.2,890.1 429.0,890.2 429.8,890.0 430.5,889.8 431.2,889.3 432.0,889.4 432.8,889.2 433.5,888.6 434.2,888.5 435.0,888.3 435.8,888.0 436.5,888.3 437.2,887.7 438.0,887.2 438.8,887.0 439.5,886.9 440.2,887.3 441.0,886.5 441.8,886.3 442.5,886.2 443.2,885.8 444.0,886.1 444.8,885.2 445.5,885.3 446.2,884.9 447.0,884.8 447.8,884.1 448.5,884.7 449.2,884.0 450.0,883.8 450.8,883.3 451.5,883.1 452.2,883.2 453.0,883.1 453.8,882.7 454.5,882.3 455.2,881.7 456.0,880.9 456.8,880.7 457.5,880.1 458.2,879.3 459.0,879.1 459.8,878.7 460.5,877.8 461.2,877.1 462.0,877.0 462.8,876.8 463.5,875.6 464.2,875.1 465.0,874.6 465.8,874.5 466.5,872.9 467.2,873.1 468.0,872.6 468.8,871.2 469.5,871.3 470.2,870.2 471.0,869.0 471.8,868.5 472.5,867.1 473.2,866.7 474.0,866.9 474.8,865.1 475.5,865.5 476.2,863.9 477.0,863.6 477.8,862.5 478.5,860.7 479.2,860.7 480.0,860.3 480.8,858.9 481.5,858.0 482.2,857.9 483.0,856.6 483.8,855.3 484.5,854.9 485.2,854.8 486.0,853.4 486.8,853.2 487.5,852.7 488.2,851.1 489.0,849.7 489.8,848.8 490.5,848.6 491.2,848.2 492.0,846.2 492.8,844.5 493.5,842.1 494.2,840.6 495.0,838.3 495.8,836.5 496.5,834.0 497.2,832.5 498.0,832.2 498.8,830.9 499.5,830.1 500.2,830.1 501.0,828.7 501.8,829.6 502.5,827.5 503.2,825.6 504.0,825.1 504.8,823.3 505.5,821.1 506.2,820.8 507.0,818.0 507.8,815.0 508.5,816.0 509.2,813.6 510.0,813.5 510.8,810.6 511.5,808.7 512.2,809.1 513.0,805.8 513.8,805.1 514.5,804.4 515.2,801.4 516.0,799.1 516.8,797.1 517.5,795.6 518.2,792.2 519.0,791.6 519.8,789.9 520.5,789.5 521.2,785.8 522.0,783.7 522.8,783.3 523.5,780.4 524.2,778.4 525.0,775.8 525.8,774.1 526.5,770.1 527.2,768.7 528.0,764.8 528.8,764.4 529.5,764.6 530.2,760.9 531.0,759.0 531.8,754.8 532.5,752.6 533.2,748.6 534.0,744.3 534.8,742.9 535.5,739.5 536.2,736.4 537.0,731.2 537.8,729.5 538.5,726.3 539.2,724.9 540.0,723.7 540.8,723.1 541.5,723.2 542.2,721.3 543.0,721.7 543.8,720.4 544.5,720.2 545.2,718.8 546.0,717.1 546.8,714.4 547.5,715.7 548.2,713.9 549.0,710.7 549.8,708.5 550.5,705.0 551.2,702.6 552.0,700.2 552.8,700.7 553.5,697.6 554.2,695.0 555.0,692.3 555.8,691.6 556.5,691.8 557.2,689.3 558.0,686.6 558.8,687.4 559.5,686.0 560.2,684.1 561.0,682.5 561.8,681.4 562.5,679.0 563.2,677.4 564.0,673.7 564.8,674.3 565.5,671.0 566.2,671.0 567.0,663.3 567.8,661.4 568.5,656.7 569.2,654.4 570.0,654.5 570.8,654.1 571.5,653.1 572.2,651.0 573.0,650.6 573.8,650.9 574.5,650.1 575.2,647.6 576.0,646.4 576.8,645.5 577.5,645.3 578.2,641.8 579.0,640.3 579.8,640.9 580.5,639.4 581.2,639.8 582.0,640.5 582.8,640.8 583.5,638.8 584.2,640.8 585.0,637.7 585.8,640.3 586.5,637.6 587.2,637.8 588.0,639.8 588.8,637.0 589.5,635.1 590.2,634.0 591.0,633.6 591.8,631.5 592.5,630.1 593.2,630.1 594.0,627.1 594.8,626.4 595.5,625.4 596.2,626.5 597.0,625.3 597.8,624.7 598.5,622.2 599.2,621.1 600.0,621.8 600.8,619.9 601.5,621.0 602.2,620.5 603.0,618.4 603.8,618.8 604.5,618.4 605.2,620.2 606.0,620.9 606.8,617.8 607.5,618.2 608.2,615.6 609.0,618.9 609.8,618.9 610.5,617.8 611.2,620.0 612.0,615.9 612.8,616.3 613.5,615.5 614.2,612.5 615.0,613.8 615.8,612.8 616.5,609.8 617.2,610.3 618.0,613.3 618.8,613.1 619.5,612.2 620.2,613.9 621.0,614.7 621.8,615.2 622.5,616.9 623.2,616.2 624.0,617.6 624.8,616.8 625.5,615.7 626.2,615.9 627.0,615.9 627.8,614.8 628.5,612.2 629.2,614.4 630.0,613.1 630.8,614.7 631.5,612.7 632.2,613.1 633.0,612.7 633.8,614.2 634.5,612.2 635.2,611.5 636.0,612.1 636.8,611.0 637.5,611.6 638.2,611.3 639.0,611.5 639.8,613.4 640.5,610.3 641.2,610.7 642.0,610.3 642.8,611.2 643.5,608.8 644.2,609.2 645.0,609.8 645.8,610.4 646.5,609.5 647.2,608.8 648.0,608.0 648.8,609.2 649.5,609.9 650.2,608.1 651.0,607.5 651.8,607.4 652.5,605.2 653.2,605.6 654.0,605.2 654.8,605.4 655.5,604.6 656.2,602.6 657.0,604.9 657.8,605.1 658.5,602.1 659.2,602.3 660.0,601.6 660.8,601.7 661.5,598.3 662.2,601.6 663.0,598.0 663.8,599.3 664.5,596.8 665.2,595.3 666.0,594.7 666.8,595.0 667.5,591.9 668.2,591.5 669.0,590.5 669.8,588.5 670.5,591.9 671.2,590.6 672.0,589.3 672.8,590.4 673.5,587.3 674.2,587.9 675.0,589.8 675.8,588.4 676.5,583.9 677.2,582.0 678.0,584.5 678.8,586.7 679.5,584.3 680.2,584.2 681.0,584.8 681.8,582.4 682.5,583.4 683.2,583.7 684.0,582.8 684.8,582.3 685.5,580.5 686.2,581.7 687.0,580.1 687.8,582.1 688.5,583.4 689.2,578.8 690.0,576.7 690.8,578.6 691.5,579.4 692.2,579.9 693.0,579.7 693.8,577.0 694.5,576.6 695.2,578.9 696.0,575.4 696.8,577.9 697.5,575.8 698.2,576.7 699.0,576.3 699.8,576.0 700.5,575.6 701.2,572.5 702.0,573.4 702.8,572.3 703.5,571.9 704.2,572.4 705.0,569.6 705.8,568.3 706.5,567.5 707.2,568.0 708.0,569.9 708.8,568.4 709.5,571.6 710.2,571.0 711.0,570.9 711.8,570.0 712.5,572.6 713.2,573.7 714.0,570.6 714.8,574.2 715.5,574.5 716.2,572.5 717.0,572.4 717.8,574.6 718.5,572.7 719.2,569.6 720.0,570.5 720.8,570.0 721.5,569.7 722.2,567.0 723.0,571.5 723.8,570.1 724.5,571.6 725.2,571.7 726.0,573.4 726.8,572.3 727.5,572.1 728.2,574.3 729.0,575.9 729.8,574.1 730.5,576.6 731.2,575.3 732.0,574.4 732.8,577.2 733.5,574.3 734.2,576.9 735.0,575.1 735.8,576.5 736.5,574.4 737.2,575.1 738.0,577.7 738.8,576.9 739.5,577.0 740.2,576.8 741.0,578.3 741.8,576.3 742.5,577.0 743.2,578.6 744.0,578.1 744.8,578.7 745.5,579.6 746.2,579.5 747.0,579.4 747.8,581.9 748.5,581.0 749.2,581.3 750.0,579.7 750.8,579.0 751.5,577.8 752.2,580.3 753.0,579.4 753.8,582.5 754.5,585.5 755.2,587.9 756.0,588.3 756.8,586.7 757.5,588.1 758.2,586.1 759.0,587.8 759.8,586.3 760.5,587.8 761.2,590.6 762.0,589.1 762.8,591.5 763.5,589.3 764.2,589.3 765.0,592.0 765.8,593.1 766.5,590.8 767.2,592.3 768.0,591.2 768.8,593.5 769.5,595.6 770.2,595.1 771.0,595.3 771.8,595.0 772.5,598.0 773.2,599.3 774.0,599.7 774.8,600.1 775.5,598.6 776.2,602.9 777.0,601.0 777.8,601.4 778.5,602.9 779.2,599.7 780.0,602.8 780.8,603.1 781.5,604.2 782.2,605.9 783.0,605.2 783.8,602.9 784.5,605.4 785.2,606.7 786.0,607.2 786.8,606.1 787.5,606.2 788.2,609.5 789.0,609.9 789.8,610.0 790.5,608.5 791.2,613.4 792.0,608.6 792.8,612.6 793.5,616.5 794.2,614.6 795.0,616.0 795.8,615.2 796.5,619.2 797.2,616.8 798.0,619.6 798.8,620.3 799.5,619.8 800.2,622.6 801.0,620.2 801.8,621.5 802.5,622.6 803.2,622.5 804.0,624.0 804.8,624.9 805.5,623.8 806.2,623.9 807.0,624.3 807.8,624.9 808.5,626.7 809.2,625.8 810.0,627.1 810.8,627.1 811.5,626.9 812.2,629.5 813.0,627.9 813.8,629.8 814.5,632.2 815.2,629.7 816.0,631.6 816.8,630.4 817.5,632.3 818.2,631.8 819.0,633.7 819.8,634.0 820.5,635.2 821.2,637.3 822.0,636.1 822.8,636.9 823.5,636.5 824.2,636.6 825.0,636.3 825.8,635.5 826.5,638.1 827.2,640.3 828.0,639.3 828.8,638.5 829.5,641.5 830.2,639.5 831.0,639.8 831.8,639.6 832.5,640.4 833.2,641.7 834.0,644.8 834.8,642.8 835.5,642.3 836.2,643.3 837.0,644.2 837.8,643.0 838.5,645.6 839.2,646.8 840.0,647.2 840.8,648.4 841.5,647.1 842.2,647.5 843.0,651.8 843.8,652.5 844.5,650.3 845.2,653.2 846.0,653.9 846.8,655.3 847.5,655.8 848.2,655.9 849.0,657.6 849.8,658.2 850.5,658.6 851.2,657.2 852.0,656.5 852.8,659.6 853.5,659.2 854.2,661.9 855.0,663.1 855.8,663.2 856.5,663.1 857.2,664.2 858.0,665.7 858.8,663.9 859.5,666.1 860.2,666.1 861.0,665.9 861.8,667.5 862.5,665.4 863.2,667.6 864.0,665.8 864.8,666.3 865.5,666.3 866.2,668.5 867.0,667.6 867.8,669.3 868.5,668.6 869.2,671.6 870.0,673.1 870.8,672.0 871.5,674.2 872.2,673.6 873.0,676.0 873.8,674.4 874.5,673.2 875.2,677.1 876.0,675.9 876.8,675.3 877.5,676.0 878.2,675.4 879.0,677.3 879.8,676.7 880.5,679.8 881.2,679.3 882.0,677.2 882.8,677.7 883.5,679.1 884.2,678.0 885.0,680.3 885.8,681.0 886.5,681.4 887.2,682.8 888.0,685.0 888.8,687.1 889.5,688.3 890.2,687.9 891.0,689.9 891.8,689.4 892.5,691.5 893.2,690.8 894.0,693.3 894.8,692.0 895.5,693.1 896.2,694.8 897.0,696.1 897.8,694.8 898.5,696.5 899.2,697.9 900.0,698.8 900.8,698.4 901.5,700.1 902.2,700.4 903.0,702.3 903.8,701.7 904.5,700.1 905.2,699.4 906.0,702.0 906.8,703.3 907.5,702.6 908.2,703.5 909.0,702.4 909.8,701.8 910.5,704.2 911.2,703.7 912.0,704.6 912.8,703.3 913.5,705.6 914.2,705.5 915.0,707.7 915.8,707.1 916.5,707.8 917.2,708.6 918.0,711.2 918.8,710.7 919.5,710.6 920.2,711.1 921.0,711.9 921.8,715.1 922.5,712.5 923.2,714.1 924.0,716.2 924.8,717.3 925.5,716.7 926.2,718.2 927.0,718.8 927.8,719.7 928.5,719.4 929.2,721.6 930.0,720.8 930.8,722.7 931.5,720.8 932.2,723.4 933.0,721.9 933.8,722.3 934.5,724.8 935.2,724.2 936.0,726.0 936.8,725.2 937.5,728.4 938.2,727.5 939.0,727.0 939.8,728.9 940.5,730.2 941.2,729.2 942.0,731.1 942.8,733.1 943.5,732.5 944.2,732.3 945.0,732.3 945.8,734.0 946.5,732.6 947.2,731.7 948.0,734.5 948.8,734.7 949.5,737.9 950.2,737.1 951.0,736.9 951.8,737.6 952.5,739.6 953.2,738.9 954.0,739.7 954.8,740.6 955.5,741.3 956.2,741.8 957.0,742.3 957.8,743.9 958.5,744.7 959.2,742.2 960.0,746.5 960.8,744.8 961.5,746.3 962.2,745.8 963.0,747.3 963.8,747.8 964.5,748.3 965.2,749.6 966.0,750.0 966.8,749.2 967.5,750.6 968.2,751.9 969.0,752.5 969.8,752.2 970.5,752.8 971.2,753.5 972.0,753.3 972.8,753.8 973.5,756.8 974.2,755.7 975.0,756.8 975.8,756.6 976.5,759.0 977.2,759.9 978.0,758.9 978.8,760.1 979.5,759.6 980.2,762.3 981.0,762.2 981.8,761.3 982.5,763.6 983.2,763.5 984.0,764.1 984.8,764.7 985.5,764.4 986.2,765.1 987.0,766.7 987.8,766.7 988.5,766.6 989.2,769.7 990.0,768.4 990.8,768.7 991.5,769.2 992.2,771.0 993.0,771.8 993.8,771.8 994.5,772.9 995.2,771.6 996.0,773.1 996.8,773.6 997.5,774.6 998.2,775.5 999.0,774.0 999.8,778.7 1000.5,776.0 1001.2,777.5 1002.0,778.4 1002.8,779.0 1003.5,779.0 1004.2,777.0 1005.0,779.0 1005.8,781.0 1006.5,780.2 1007.2,780.6 1008.0,780.1 1008.8,783.4 1009.5,783.4 1010.2,782.8 1011.0,784.0 1011.8,784.5 1012.5,784.2 1013.2,785.4 1014.0,786.3 1014.8,787.1 1015.5,788.1 1016.2,787.7 1017.0,787.9 1017.8,789.0 1018.5,788.8 1019.2,788.8 1020.0,791.1 1020.8,790.5 1021.5,791.4 1022.2,792.2 1023.0,791.3 1023.8,793.1 1024.5,793.4 1025.2,793.4 1026.0,794.2 1026.8,793.8 1027.5,793.2 1028.2,795.1 1029.0,795.1 1029.8,796.8 1030.5,796.8 1031.2,796.7 1032.0,797.6 1032.8,799.0 1033.5,799.1 1034.2,798.9 1035.0,799.2 1035.8,799.0 1036.5,799.4 1037.2,800.2 1038.0,800.0 1038.8,800.6 1039.5,799.9 1040.2,799.9 1041.0,800.1 1041.8,801.3 1042.5,802.9 1043.2,803.1 1044.0,801.9 1044.8,801.8 1045.5,803.7 1046.2,803.8 1047.0,802.8 1047.8,804.8 1048.5,804.5 1049.2,805.6 1050.0,805.2 1050.8,805.9 1051.5,805.8 1052.2,805.2 1053.0,806.0 1053.8,806.0 1054.5,807.3 1055.2,806.4 1056.0,806.3 1056.8,808.1 1057.5,808.7 1058.2,809.2 1059.0,809.3 1059.8,807.8 1060.5,808.7 1061.2,809.1 1062.0,809.7 1062.8,808.6 1063.5,810.3 1064.2,810.8 1065.0,810.3 1065.8,811.3 1066.5,812.3 1067.2,811.9 1068.0,812.8 1068.8,813.0 1069.5,812.7 1070.2,812.9 1071.0,812.5 1071.8,813.8 1072.5,812.8 1073.2,812.8 1074.0,813.9 1074.8,813.1 1075.5,814.0 1076.2,814.5 1077.0,814.1 1077.8,814.2 1078.5,814.9 1079.2,815.0 1080.0,813.6 1080.8,814.0 1081.5,816.1 1082.2,815.8 1083.0,814.4 1083.8,815.2 1084.5,816.4 1085.2,816.0 1086.0,817.3 1086.8,817.3 1087.5,817.9 1088.2,817.1 1089.0,818.6 1089.8,819.7 1090.5,818.2 1091.2,819.9 1092.0,820.0 1092.8,820.1 1093.5,820.1 1094.2,819.8 1095.0,820.3 1095.8,821.7 1096.5,822.2 1097.2,822.8 1098.0,823.0 1098.8,823.3 1099.5,822.8 1100.2,822.7 1101.0,824.0 1101.8,824.5 1102.5,824.7 1103.2,824.1 1104.0,825.0 1104.8,824.7 1105.5,826.0 1106.2,825.6 1107.0,826.5 1107.8,827.1 1108.5,827.3 1109.2,828.3 1110.0,827.1 1110.8,826.8 1111.5,829.0 1112.2,829.5 1113.0,829.9 1113.8,829.5 1114.5,829.9 1115.2,830.0 1116.0,829.3 1116.8,829.9 1117.5,830.7 1118.2,830.2 1119.0,831.8 1119.8,829.9 1120.5,830.7 1121.2,831.8 1122.0,830.9 1122.8,830.8 1123.5,830.8 1124.2,831.3 1125.0,832.8 1125.8,832.3 1126.5,832.5 1127.2,832.0 1128.0,833.2 1128.8,833.1 1129.5,832.9 1130.2,833.5 1131.0,834.3 1131.8,835.2 1132.5,834.9 1133.2,835.6 1134.0,836.8 1134.8,835.6 1135.5,835.7 1136.2,837.3 1137.0,837.4 1137.8,837.4 1138.5,838.0 1139.2,838.1 1140.0,838.8 1140.8,838.5 1141.5,839.4 1142.2,838.5 1143.0,838.9 1143.8,839.7 1144.5,839.6 1145.2,840.4 1146.0,840.3 1146.8,840.2 1147.5,840.9 1148.2,840.7 1149.0,840.4 1149.8,840.8 1150.5,841.2 1151.2,841.7 1152.0,842.3 1152.8,843.0 1153.5,843.1 1154.2,844.1 1155.0,844.1 1155.8,843.6 1156.5,844.9 1157.2,844.9 1158.0,844.4 1158.8,845.1 1159.5,845.8 1160.2,845.6 1161.0,846.3 1161.8,846.3 1162.5,846.8 1163.2,846.5 1164.0,847.0 1164.8,846.7 1165.5,847.4 1166.2,846.4 1167.0,847.5 1167.8,848.2 1168.5,848.0 1169.2,847.8 1170.0,848.3 1170.8,847.7 1171.5,847.9 1172.2,848.3 1173.0,848.5 1173.8,849.2 1174.5,848.5 1175.2,849.6 1176.0,848.5 1176.8,849.2 1177.5,849.8 1178.2,850.6 1179.0,849.9 1179.8,849.4 1180.5,850.9 1181.2,850.9 1182.0,850.6 1182.8,850.8 1183.5,851.2 1184.2,851.8 1185.0,852.3 1185.8,851.5 1186.5,853.5 1187.2,852.6 1188.0,852.7 1188.8,853.4 1189.5,853.4 1190.2,854.7 1191.0,854.3 1191.8,853.8 1192.5,854.1 1193.2,854.2 1194.0,854.5 1194.8,855.3 1195.5,854.9 1196.2,856.2 1197.0,855.6 1197.8,855.8 1198.5,856.5 1199.2,855.4 1200.0,856.1 1200.8,857.0 1201.5,857.0 1202.2,857.2 1203.0,857.6 1203.8,857.4 1204.5,857.8 1205.2,857.5 1206.0,857.5 1206.8,859.1 1207.5,858.3 1208.2,858.6 1209.0,859.8 1209.8,859.9 1210.5,859.3 1211.2,859.4 1212.0,859.7 1212.8,859.4 1213.5,860.1 1214.2,860.0 1215.0,860.1 1215.8,860.4 1216.5,860.5 1217.2,861.1 1218.0,861.0 1218.8,859.6 1219.5,860.9 1220.2,860.1 1221.0,860.0 1221.8,861.0 1222.5,860.5 1223.2,860.9 1224.0,861.6 1224.8,861.0 1225.5,861.1 1226.2,861.7 1227.0,862.3 1227.8,862.1 1228.5,861.4 1229.2,861.9 1230.0,862.3 1230.8,863.3 1231.5,863.0 1232.2,863.2 1233.0,863.5 1233.8,863.0 1234.5,863.5 1235.2,863.8 1236.0,863.4 1236.8,864.0 1237.5,864.4 1238.2,864.0 1239.0,865.0 1239.8,865.2 1240.5,865.5 1241.2,865.0 1242.0,865.6 1242.8,866.4 1243.5,866.3 1244.2,865.9 1245.0,866.5 1245.8,867.2 1246.5,866.8 1247.2,867.1 1248.0,868.1 1248.8,867.2 1249.5,867.4 1250.2,867.2 1251.0,867.5 1251.8,868.4 1252.5,868.0 1253.2,867.7 1254.0,868.0 1254.8,868.5 1255.5,868.9 1256.2,868.5 1257.0,869.2 1257.8,868.9 1258.5,869.4 1259.2,869.6 1260.0,869.7 1260.8,869.5 1261.5,869.7 1262.2,870.1 1263.0,869.6 1263.8,870.3 1264.5,870.6 1265.2,870.9 1266.0,870.7 1266.8,870.8 1267.5,871.0 1268.2,870.8 1269.0,871.2 1269.8,871.6 1270.5,871.7 1271.2,871.3 1272.0,871.8 1272.8,871.3 1273.5,872.5 1274.2,872.1 1275.0,872.6 1275.8,872.2 1276.5,872.8 1277.2,873.1 1278.0,873.4 1278.8,872.8 1279.5,873.7 1280.2,873.5 1281.0,873.4 1281.8,873.9 1282.5,873.7 1283.2,873.7 1284.0,873.6 1284.8,874.0 1285.5,874.0 1286.2,874.0 1287.0,873.8 1287.8,874.0 1288.5,874.3 1289.2,874.7 1290.0,874.3 1290.8,874.9 1291.5,874.5 1292.2,874.3 1293.0,875.0 1293.8,874.5 1294.5,875.1 1295.2,875.5 1296.0,875.1 1296.8,875.3 1297.5,876.3 1298.2,875.6 1299.0,875.8 1299.8,876.0 1300.5,875.9 1301.2,876.0 1302.0,876.2 1302.8,875.4 1303.5,876.8 1304.2,876.1 1305.0,876.2 1305.8,876.8 1306.5,876.7 1307.2,876.3 1308.0,876.9 1308.8,876.5 1309.5,876.8 1310.2,876.6 1311.0,876.9 1311.8,877.3 1312.5,877.3 1313.2,877.5 1314.0,877.7 1314.8,877.5 1315.5,877.4 1316.2,877.6 1317.0,878.3 1317.8,877.8 1318.5,877.9 1319.2,877.9 1320.0,878.0 1320.8,878.1 1321.5,878.0 1322.2,878.0 1323.0,877.8 1323.8,877.8 1324.5,878.3 1325.2,878.4 1326.0,878.5 1326.8,878.3 1327.5,878.0 1328.2,878.5 1329.0,878.6 1329.8,877.9 1330.5,878.7 1331.2,878.7 1332.0,879.1 1332.8,878.4 1333.5,878.5 1334.2,879.3 1335.0,878.7 1335.8,879.1 1336.5,879.2 1337.2,879.4 1338.0,879.2 1338.8,879.9 1339.5,880.4 1340.2,880.4 1341.0,880.5 1341.8,880.4 1342.5,881.1 1343.2,881.0 1344.0,881.3 1344.8,880.7 1345.5,881.3 1346.2,880.8 1347.0,881.1 1347.8,881.0 1348.5,880.5 1349.2,880.8 1350.0,881.0 1350.8,880.8 1351.5,880.7 1352.2,880.2 1353.0,880.2 1353.8,880.0 1354.5,880.3 1355.2,880.5 1356.0,880.2 1356.8,880.0 1357.5,879.6 1358.2,880.0 1359.0,879.7 1359.8,879.4 1360.5,879.6 1361.2,880.2 1362.0,880.2 1362.8,881.1 1363.5,880.8 1364.2,880.6 1365.0,880.9 1365.8,881.7 1366.5,881.1 1367.2,881.7 1368.0,881.8 1368.8,882.2 1369.5,882.1 1370.2,882.0 1371.0,882.4 1371.8,882.4 1372.5,882.8 1373.2,882.7 1374.0,883.4 1374.8,882.9 1375.5,883.2 1376.2,883.0 1377.0,883.3 1377.8,883.4 1378.5,883.5 1379.2,883.9 1380.0,883.6 1380.8,883.6 1381.5,884.2 1382.2,884.0 1383.0,884.0 1383.8,884.6 1384.5,884.6 1385.2,883.9 1386.0,884.5 1386.8,884.9 1387.5,884.9 1388.2,884.6 1389.0,885.1 1389.8,884.5 1390.5,884.6 1391.2,884.7 1392.0,884.7 1392.8,884.9 1393.5,885.0 1394.2,884.7 1395.0,885.1 1395.8,884.5 1396.5,884.7 1397.2,885.1 1398.0,884.7 1398.8,885.0 1399.5,884.6 1400.2,884.6 1401.0,884.8 1401.8,884.9 1402.5,884.8 1403.2,885.0 1404.0,885.2 1404.8,885.4 1405.5,885.2 1406.2,885.4 1407.0,885.6 1407.8,885.2 1408.5,885.1 1409.2,886.0 1410.0,886.0 1410.8,885.7 1411.5,885.9 1412.2,885.6 1413.0,885.6 1413.8,886.1 1414.5,885.7 1415.2,886.4 1416.0,886.2 1416.8,886.5 1417.5,887.0 1418.2,887.1 1419.0,886.7 1419.8,887.1 1420.5,886.8 1421.2,887.0 1422.0,887.3 1422.8,887.7 1423.5,887.3 1424.2,887.7 1425.0,887.7 1425.8,887.5 1426.5,887.9 1427.2,888.4 1428.0,888.1 1428.8,888.2 1429.5,888.3 1430.2,887.9 1431.0,888.4 1431.8,888.4 1432.5,888.4 1433.2,888.4 1434.0,888.0 1434.8,888.0 1435.5,887.9 1436.2,887.9 1437.0,887.9 1437.8,888.3 1438.5,888.4 1439.2,888.0 1440.0,888.3 1440.8,887.8 1441.5,888.0 1442.2,888.0 1443.0,887.9 1443.8,888.3 1444.5,888.4 1445.2,888.4 1446.0,888.5 1446.8,888.4 1447.5,888.7 1448.2,888.7 1449.0,888.9 1449.8,888.7 1450.5,889.1 1451.2,889.2 1452.0,889.4 1452.8,889.5 1453.5,889.4 1454.2,889.3 1455.0,889.1 1455.8,889.5 1456.5,889.9 1457.2,890.0 1458.0,889.2 1458.8,889.6 1459.5,889.7 1460.2,889.6 1461.0,889.9 1461.8,889.9 1462.5,889.9 1463.2,890.0 1464.0,889.8 1464.8,889.9 1465.5,890.0"/>
<polyline stroke="#0000ff" points="255.0,893.5 255.8,893.5 256.5,893.9 257.2,893.6 258.0,893.1 258.8,893.4 259.5,893.3 260.2,893.4 261.0,893.0 261.8,893.3 262.5,893.3 263.2,893.5 264.0,893.2 264.8,893.2 265.5,892.8 266.2,893.5 267.0,892.6 267.8,893.2 268.5,892.9 269.2,892.7 270.0,892.7 270.8,892.7 271.5,892.9 272.2,892.7 273.0,893.1 273.8,892.3 274.5,892.6 275.2,892.4 276.0,892.8 276.8,892.1 277.5,892.4 278.2,892.5 279.0,892.1 279.8,892.6 280.5,892.4 281.2,892.6 282.0,892.5 282.8,892.0 283.5,892.0 284.2,892.1 285.0,892.3 285.8,892.3 286.5,891.9 287.2,891.9 288.0,891.8 288.8,891.8 289.5,891.9 290.2,891.8 291.0,892.3 291.8,891.7 292.5,891.7 293.2,891.8 294.0,891.5 294.8,891.6 295.5,891.6 296.2,891.8 297.0,891.2 297.8,891.9 298.5,891.4 299.2,891.5 300.0,891.6 300.8,891.5 301.5,891.5 302.2,891.1 303.0,891.0 303.8,890.9 304.5,890.5 305.2,891.0 306.0,890.3 306.8,890.1 307.5,890.9 308.2,890.1 309.0,889.7 309.8,890.5 310.5,889.8 311.2,890.1 312.0,889.5 312.8,889.6 313.5,889.1 314.2,889.0 315.0,889.2 315.8,889.3 316.5,889.5 317.2,890.0 318.0,888.8 318.8,889.4 319.5,888.8 320.2,888.9 321.0,888.4 321.8,888.3 322.5,888.4 323.2,888.2 324.0,888.5 324.8,888.2 325.5,888.8 326.2,888.4 327.0,888.3 327.8,888.5 328.5,888.3 329.2,887.9 330.0,887.8 330.8,887.7 331.5,887.9 332.2,887.7 333.0,887.5 333.8,887.5 334.5,886.9 335.2,887.1 336.0,886.3 336.8,887.2 337.5,886.6 338.2,886.5 339.0,886.4 339.8,886.0 340.5,885.7 341.2,886.0 342.0,885.4 342.8,884.8 343.5,885.1 344.2,884.1 345.0,885.1 345.8,884.2 346.5,884.0 347.2,884.6 348.0,884.2 348.8,883.1 349.5,883.1 350.2,883.0 351.0,883.0 351.8,881.9 352.5,881.8 353.2,882.0 354.0,881.3 354.8,881.2 355.5,880.9 356.2,879.8 357.0,879.6 357.8,878.5 358.5,879.3 359.2,879.8 360.0,878.1 360.8,878.6 361.5,877.9 362.2,876.8 363.0,876.3 363.8,875.7 364.5,874.7 365.2,874.4 366.0,873.9 366.8,873.7 367.5,873.2 368.2,871.8 369.0,872.1 369.8,870.7 370.5,870.4 371.2,870.1 372.0,869.3 372.8,868.7 373.5,868.4 374.2,867.0 375.0,866.2 375.8,865.6 376.5,865.5 377.2,864.0 378.0,864.5 378.8,862.6 379.5,859.7 380.2,860.5 381.0,861.1 381.8,859.1 382.5,858.0 383.2,856.9 384.0,857.4 384.8,856.0 385.5,854.6 386.2,853.3 387.0,852.8 387.8,851.2 388.5,848.5 389.2,848.9 390.0,847.3 390.8,845.9 391.5,845.5 392.2,843.9 393.0,840.4 393.8,843.0 394.5,841.5 395.2,839.5 396.0,838.2 396.8,837.6 397.5,835.3 398.2,835.6 399.0,833.6 399.8,831.8 400.5,829.6 401.2,828.1 402.0,828.0 402.8,826.6 403.5,824.2 404.2,822.3 405.0,820.2 405.8,820.4 406.5,819.9 407.2,815.4 408.0,816.8 408.8,812.1 409.5,812.6 410.2,811.8 411.0,808.5 411.8,806.8 412.5,807.0 413.2,806.3 414.0,803.3 414.8,803.7 415.5,800.1 416.2,801.4 417.0,798.3 417.8,797.0 418.5,796.0 419.2,794.3 420.0,794.7 420.8,793.7 421.5,790.1 422.2,785.5 423.0,780.4 423.8,777.9 424.5,776.3 425.2,773.6 426.0,771.2 426.8,768.7 427.5,767.1 428.2,762.4 429.0,760.6 429.8,761.0 430.5,758.7 431.2,755.6 432.0,756.6 432.8,752.7 433.5,751.9 434.2,748.5 435.0,750.7 435.8,748.2 436.5,748.1 437.2,745.5 438.0,742.5 438.8,740.5 439.5,739.8 440.2,735.6 441.0,729.2 441.8,724.5 442.5,723.2 443.2,721.1 444.0,720.3 444.8,715.1 445.5,714.8 446.2,709.6 447.0,709.3 447.8,706.2 448.5,706.4 449.2,702.8 450.0,699.4 450.8,699.2 451.5,697.1 452.2,694.3 453.0,692.6 453.8,689.7 454.5,693.7 455.2,687.7 456.0,687.1 456.8,681.8 457.5,680.1 458.2,679.1 459.0,676.1 459.8,674.7 460.5,668.8 461.2,669.0 462.0,668.4 462.8,662.0 463.5,662.8 464.2,657.2 465.0,656.9 465.8,654.5 466.5,654.3 467.2,647.6 468.0,646.4 468.8,645.3 469.5,638.7 470.2,638.1 471.0,634.4 471.8,632.6 472.5,632.9 473.2,630.7 474.0,631.9 474.8,627.3 475.5,624.6 476.2,619.5 477.0,616.7 477.8,615.5 478.5,609.4 479.2,615.0 480.0,609.0 480.8,606.6 481.5,606.1 482.2,606.9 483.0,603.5 483.8,596.1 484.5,593.7 485.2,589.4 486.0,584.3 486.8,583.4 487.5,581.2 488.2,576.2 489.0,579.5 489.8,572.4 490.5,574.0 491.2,569.5 492.0,567.6 492.8,565.5 493.5,565.9 494.2,559.6 495.0,558.1 495.8,556.8 496.5,548.2 497.2,547.9 498.0,547.7 498.8,543.6 499.5,544.1 500.2,540.2 501.0,541.3 501.8,538.4 502.5,534.6 503.2,537.8 504.0,533.0 504.8,531.0 505.5,528.0 506.2,526.7 507.0,525.0 507.8,523.1 508.5,522.6 509.2,514.7 510.0,513.0 510.8,512.6 511.5,507.0 512.2,505.0 513.0,505.0 513.8,499.8 514.5,497.6 515.2,494.1 516.0,495.7 516.8,491.7 517.5,485.4 518.2,486.0 519.0,480.2 519.8,483.2 520.5,480.3 521.2,476.5 522.0,474.0 522.8,468.6 523.5,471.8 524.2,467.3 525.0,464.4 525.8,464.3 526.5,458.6 527.2,456.2 528.0,453.4 528.8,449.4 529.5,456.3 530.2,448.7 531.0,446.7 531.8,448.1 532.5,437.0 533.2,442.7 534.0,441.2 534.8,436.5 535.5,437.4 536.2,429.0 537.0,431.3 537.8,430.6 538.5,420.0 539.2,418.6 540.0,418.9 540.8,417.1 541.5,413.4 542.2,413.7 543.0,411.2 543.8,404.4 544.5,401.0 545.2,392.3 546.0,385.2 546.8,379.9 547.5,385.4 548.2,379.6 549.0,381.9 549.8,370.7 550.5,371.2 551.2,370.6 552.0,367.1 552.8,366.4 553.5,363.3 554.2,359.3 555.0,352.8 555.8,354.2 556.5,358.9 557.2,351.9 558.0,347.1 558.8,339.7 559.5,338.9 560.2,335.4 561.0,336.9 561.8,334.3 562.5,333.5 563.2,333.7 564.0,322.5 564.8,322.5 565.5,315.4 566.2,320.7 567.0,315.1 567.8,314.7 568.5,313.8 569.2,316.4 570.0,310.5 570.8,306.1 571.5,297.7 572.2,298.4 573.0,292.7 573.8,290.9 574.5,289.5 575.2,289.3 576.0,283.7 576.8,285.6 577.5,286.7 578.2,275.9 579.0,281.8 579.8,282.7 580.5,274.0 581.2,276.0 582.0,269.3 582.8,272.8 583.5,269.8 584.2,270.3 585.0,265.7 585.8,264.7 586.5,263.6 587.2,260.7 588.0,258.8 588.8,257.7 589.5,253.0 590.2,253.2 591.0,252.4 591.8,242.1 592.5,246.6 593.2,242.0 594.0,239.6 594.8,237.6 595.5,237.6 596.2,236.5 597.0,238.2 597.8,232.3 598.5,237.5 599.2,230.8 600.0,233.4 600.8,232.9 601.5,224.7 602.2,229.6 603.0,231.1 603.8,222.0 604.5,222.8 605.2,218.2 606.0,216.3 606.8,213.1 607.5,209.0 608.2,207.4 609.0,202.7 609.8,198.7 610.5,202.9 611.2,201.4 612.0,200.1 612.8,195.8 613.5,203.2 614.2,201.3 615.0,191.0 615.8,193.8 616.5,195.4 617.2,199.3 618.0,200.0 618.8,195.2 619.5,196.3 620.2,197.2 621.0,191.0 621.8,196.0 622.5,192.9 623.2,193.9 624.0,192.8 624.8,189.0 625.5,189.1 626.2,191.7 627.0,191.5 627.8,189.5 628.5,191.6 629.2,185.7 630.0,181.5 630.8,182.3 631.5,181.1 632.2,179.5 633.0,181.6 633.8,178.0 634.5,177.9 635.2,174.9 636.0,170.8 636.8,172.8 637.5,168.7 638.2,170.0 639.0,166.0 639.8,169.1 640.5,167.6 641.2,169.4 642.0,173.5 642.8,174.9 643.5,170.7 644.2,167.3 645.0,169.6 645.8,167.7 646.5,163.7 647.2,163.6 648.0,161.3 648.8,158.5 649.5,162.7 650.2,155.2 651.0,153.6 651.8,155.9 652.5,151.1 653.2,149.0 654.0,149.3 654.8,152.6 655.5,151.6 656.2,150.7 657.0,147.7 657.8,145.7 658.5,150.5 659.2,142.8 660.0,145.5 660.8,140.7 661.5,141.9 662.2,141.2 663.0,143.9 663.8,130.0 664.5,141.3 665.2,133.0 666.0,135.1 666.8,135.2 667.5,128.9 668.2,129.5 669.0,129.8 669.8,127.1 670.5,124.3 671.2,126.2 672.0,125.0 672.8,119.2 673.5,127.0 674.2,122.7 675.0,113.6 675.8,117.6 676.5,124.5 677.2,123.2 678.0,118.2 678.8,113.1 679.5,118.4 680.2,123.2 681.0,122.0 681.8,120.6 682.5,120.2 683.2,125.0 684.0,120.1 684.8,120.1 685.5,118.9 686.2,120.7 687.0,114.6 687.8,113.1 688.5,105.1 689.2,112.3 690.0,111.0 690.8,108.3 691.5,101.5 692.2,106.9 693.0,109.1 693.8,115.4 694.5,111.0 695.2,111.7 696.0,112.0 696.8,113.7 697.5,106.2 698.2,106.0 699.0,102.4 699.8,102.7 700.5,99.9 701.2,98.8 702.0,92.7 702.8,93.7 703.5,90.3 704.2,99.2 705.0,90.7 705.8,100.0 706.5,96.8 707.2,87.7 708.0,94.1 708.8,92.7 709.5,85.7 710.2,92.1 711.0,89.7 711.8,92.0 712.5,89.3 713.2,92.9 714.0,95.5 714.8,94.8 715.5,94.6 716.2,97.1 717.0,95.7 717.8,101.0 718.5,93.1 719.2,106.8 720.0,103.5 720.8,105.9 721.5,106.9 722.2,99.7 723.0,109.8 723.8,98.6 724.5,102.7 725.2,101.5 726.0,103.9 726.8,99.0 727.5,93.9 728.2,98.4 729.0,88.7 729.8,94.8 730.5,93.1 731.2,98.4 732.0,91.8 732.8,90.3 733.5,88.4 734.2,87.4 735.0,91.3 735.8,97.9 736.5,94.9 737.2,101.3 738.0,100.4 738.8,107.4 739.5,109.7 740.2,104.1 741.0,104.8 741.8,105.6 742.5,106.3 743.2,105.5 744.0,100.9 744.8,96.8 745.5,93.6 746.2,100.5 747.0,102.4 747.8,99.2 748.5,103.0 749.2,96.7 750.0,96.9 750.8,103.0 751.5,95.0 752.2,100.0 753.0,100.7 753.8,101.6 754.5,108.2 755.2,101.8 756.0,104.9 756.8,101.4 757.5,106.4 758.2,109.7 759.0,111.8 759.8,112.2 760.5,113.6 761.2,110.5 762.0,106.3 762.8,112.7 763.5,113.4 764.2,108.3 765.0,109.3 765.8,117.1 766.5,114.6 767.2,114.7 768.0,114.6 768.8,114.2 769.5,113.4 770.2,118.1 771.0,117.0 771.8,117.5 772.5,120.0 773.2,121.0 774.0,125.2 774.8,120.7 775.5,132.5 776.2,122.9 777.0,125.9 777.8,131.3 778.5,127.1 779.2,129.3 780.0,132.1 780.8,124.5 781.5,134.2 782.2,135.1 783.0,139.5 783.8,144.0 784.5,146.7 785.2,151.5 786.0,153.4 786.8,154.1 787.5,152.8 788.2,158.0 789.0,149.8 789.8,150.1 790.5,152.4 791.2,148.0 792.0,139.0 792.8,139.0 793.5,141.2 794.2,141.7 795.0,145.8 795.8,139.9 796.5,144.2 797.2,150.0 798.0,150.5 798.8,156.1 799.5,159.1 800.2,162.9 801.0,164.3 801.8,167.8 802.5,167.0 803.2,163.7 804.0,158.1 804.8,164.3 805.5,160.4 806.2,162.3 807.0,162.8 807.8,158.8 808.5,166.7 809.2,164.3 810.0,163.9 810.8,172.7 811.5,169.2 812.2,171.9 813.0,174.2 813.8,176.6 814.5,166.7 815.2,170.2 816.0,174.7 816.8,170.9 817.5,163.5 818.2,173.9 819.0,174.4 819.8,176.4 820.5,176.3 821.2,176.6 822.0,180.8 822.8,182.3 823.5,183.3 824.2,188.0 825.0,190.7 825.8,189.1 826.5,197.5 827.2,199.4 828.0,201.7 828.8,193.8 829.5,204.6 830.2,203.4 831.0,200.0 831.8,203.7 832.5,196.7 833.2,203.8 834.0,200.4 834.8,196.9 835.5,201.7 836.2,198.0 837.0,196.7 837.8,191.0 838.5,197.8 839.2,202.5 840.0,203.6 840.8,198.7 841.5,208.6 842.2,211.3 843.0,211.1 843.8,209.6 844.5,208.5 845.2,212.1 846.0,214.9 846.8,219.2 847.5,221.9 848.2,220.0 849.0,219.3 849.8,224.7 850.5,224.0 851.2,233.0 852.0,225.6 852.8,230.3 853.5,231.1 854.2,225.8 855.0,231.3 855.8,227.9 856.5,225.9 857.2,225.3 858.0,228.2 858.8,230.8 859.5,222.4 860.2,230.7 861.0,229.6 861.8,229.0 862.5,232.0 863.2,233.4 864.0,234.3 864.8,237.9 865.5,234.2 866.2,243.6 867.0,242.0 867.8,239.3 868.5,237.0 869.2,243.9 870.0,244.3 870.8,249.1 871.5,250.5 872.2,255.4 873.0,250.9 873.8,254.7 874.5,252.4 875.2,253.6 876.0,260.1 876.8,256.5 877.5,257.7 878.2,258.1 879.0,261.2 879.8,263.0 880.5,262.1 881.2,260.3 882.0,265.5 882.8,263.3 883.5,265.7 884.2,268.3 885.0,269.5 885.8,263.4 886.5,280.9 887.2,283.0 888.0,287.5 888.8,290.5 889.5,282.4 890.2,284.8 891.0,288.4 891.8,291.6 892.5,289.1 893.2,291.3 894.0,296.7 894.8,293.0 895.5,297.6 896.2,301.6 897.0,299.6 897.8,306.2 898.5,307.6 899.2,306.6 900.0,310.6 900.8,312.8 901.5,313.7 902.2,315.9 903.0,318.1 903.8,319.1 904.5,320.1 905.2,321.8 906.0,329.9 906.8,330.3 907.5,330.6 908.2,336.5 909.0,328.8 909.8,335.2 910.5,331.1 911.2,334.6 912.0,339.1 912.8,337.1 913.5,342.3 914.2,336.9 915.0,339.5 915.8,339.6 916.5,342.5 917.2,342.8 918.0,343.8 918.8,346.1 919.5,349.9 920.2,348.6 921.0,349.5 921.8,349.8 922.5,349.8 923.2,349.1 924.0,351.3 924.8,356.1 925.5,353.2 926.2,361.8 927.0,361.1 927.8,361.9 928.5,364.9 929.2,370.0 930.0,371.4 930.8,373.3 931.5,379.6 932.2,383.6 933.0,377.1 933.8,385.1 934.5,383.6 935.2,384.6 936.0,387.7 936.8,391.7 937.5,388.6 938.2,388.4 939.0,393.2 939.8,391.2 940.5,389.9 941.2,394.8 942.0,391.7 942.8,388.8 943.5,388.1 944.2,390.2 945.0,392.2 945.8,394.7 946.5,395.0 947.2,393.8 948.0,391.2 948.8,397.0 949.5,395.5 950.2,393.1 951.0,394.1 951.8,399.1 952.5,400.9 953.2,403.6 954.0,400.1 954.8,409.3 955.5,401.6 956.2,407.5 957.0,412.3 957.8,413.5 958.5,410.5 959.2,416.1 960.0,419.5 960.8,420.2 961.5,417.9 962.2,426.2 963.0,420.1 963.8,426.7 964.5,429.6 965.2,436.6 966.0,442.4 966.8,444.7 967.5,441.0 968.2,444.9 969.0,447.8 969.8,445.3 970.5,447.4 971.2,449.0 972.0,448.2 972.8,450.6 973.5,451.7 974.2,452.8 975.0,456.5 975.8,455.6 976.5,450.8 977.2,451.7 978.0,451.9 978.8,450.5 979.5,460.5 980.2,460.0 981.0,455.1 981.8,460.5 982.5,466.7 983.2,462.9 984.0,463.5 984.8,463.3 985.5,461.5 986.2,461.1 987.0,462.4 987.8,465.1 988.5,464.7 989.2,467.4 990.0,470.4 990.8,468.2 991.5,469.3 992.2,467.0 993.0,465.9 993.8,475.3 994.5,473.3 995.2,475.7 996.0,473.5 996.8,471.9 997.5,480.1 998.2,473.6 999.0,479.5 999.8,480.0 1000.5,483.1 1001.2,485.7 1002.0,487.1 1002.8,481.9 1003.5,490.2 1004.2,485.0 1005.0,492.2 1005.8,491.0 1006.5,490.8 1007.2,493.5 1008.0,493.1 1008.8,497.3 1009.5,501.2 1010.2,502.7 1011.0,502.9 1011.8,507.1 1012.5,507.7 1013.2,513.2 1014.0,511.5 1014.8,510.9 1015.5,513.4 1016.2,513.7 1017.0,515.8 1017.8,517.2 1018.5,520.2 1019.2,521.5 1020.0,521.0 1020.8,523.0 1021.5,521.6 1022.2,523.1 1023.0,520.4 1023.8,525.3 1024.5,527.3 1025.2,535.2 1026.0,528.2 1026.8,532.5 1027.5,533.0 1028.2,531.7 1029.0,537.0 1029.8,537.8 1030.5,536.0 1031.2,535.4 1032.0,541.4 1032.8,539.7 1033.5,545.3 1034.2,544.5 1035.0,547.4 1035.8,546.9 1036.5,551.9 1037.2,551.3 1038.0,554.3 1038.8,552.5 1039.5,550.5 1040.2,549.9 1041.0,552.1 1041.8,554.0 1042.5,552.3 1043.2,559.0 1044.0,554.0 1044.8,555.3 1045.5,554.8 1046.2,552.3 1047.0,557.3 1047.8,556.7 1048.5,557.4 1049.2,554.2 1050.0,556.8 1050.8,557.3 1051.5,560.4 1052.2,555.8 1053.0,560.6 1053.8,562.4 1054.5,559.6 1055.2,559.4 1056.0,564.4 1056.8,562.8 1057.5,566.1 1058.2,567.1 1059.0,569.4 1059.8,568.6 1060.5,566.4 1061.2,573.7 1062.0,572.7 1062.8,575.9 1063.5,574.1 1064.2,579.0 1065.0,575.8 1065.8,578.5 1066.5,579.7 1067.2,577.8 1068.0,579.2 1068.8,579.2 1069.5,578.3 1070.2,584.0 1071.0,580.2 1071.8,579.8 1072.5,582.8 1073.2,585.0 1074.0,585.8 1074.8,586.0 1075.5,586.7 1076.2,584.3 1077.0,590.7 1077.8,593.9 1078.5,590.0 1079.2,588.9 1080.0,594.9 1080.8,594.1 1081.5,587.6 1082.2,594.9 1083.0,594.6 1083.8,596.1 1084.5,603.3 1085.2,602.3 1086.0,601.1 1086.8,602.6 1087.5,606.8 1088.2,602.9 1089.0,607.6 1089.8,606.2 1090.5,610.2 1091.2,610.3 1092.0,609.6 1092.8,614.3 1093.5,614.5 1094.2,618.1 1095.0,614.3 1095.8,615.8 1096.5,614.7 1097.2,618.8 1098.0,615.5 1098.8,617.3 1099.5,620.3 1100.2,619.2 1101.0,619.2 1101.8,619.7 1102.5,620.2 1103.2,621.2 1104.0,619.8 1104.8,617.0 1105.5,623.6 1106.2,619.5 1107.0,625.3 1107.8,622.8 1108.5,628.6 1109.2,625.3 1110.0,625.0 1110.8,627.1 1111.5,623.9 1112.2,627.9 1113.0,628.0 1113.8,629.9 1114.5,627.2 1115.2,628.0 1116.0,634.3 1116.8,633.7 1117.5,633.4 1118.2,634.7 1119.0,634.3 1119.8,635.2 1120.5,638.0 1121.2,636.9 1122.0,639.3 1122.8,637.3 1123.5,635.9 1124.2,638.7 1125.0,640.2 1125.8,639.1 1126.5,641.2 1127.2,641.7 1128.0,645.1 1128.8,645.7 1129.5,646.9 1130.2,644.2 1131.0,647.0 1131.8,649.5 1132.5,648.2 1133.2,648.5 1134.0,648.0 1134.8,652.0 1135.5,651.8 1136.2,654.4 1137.0,653.4 1137.8,658.3 1138.5,655.7 1139.2,654.6 1140.0,658.2 1140.8,659.7 1141.5,662.2 1142.2,660.2 1143.0,661.2 1143.8,662.7 1144.5,663.6 1145.2,661.8 1146.0,667.8 1146.8,669.8 1147.5,667.4 1148.2,668.2 1149.0,670.5 1149.8,669.5 1150.5,672.4 1151.2,670.1 1152.0,672.4 1152.8,669.4 1153.5,669.3 1154.2,669.2 1155.0,669.6 1155.8,672.9 1156.5,673.7 1157.2,672.8 1158.0,673.6 1158.8,670.0 1159.5,676.3 1160.2,672.9 1161.0,677.8 1161.8,680.3 1162.5,676.9 1163.2,678.4 1164.0,679.0 1164.8,676.4 1165.5,677.2 1166.2,678.2 1167.0,679.9 1167.8,681.4 1168.5,680.5 1169.2,682.4 1170.0,680.0 1170.8,678.8 1171.5,681.5 1172.2,681.7 1173.0,679.7 1173.8,684.3 1174.5,682.5 1175.2,684.4 1176.0,687.5 1176.8,686.9 1177.5,691.2 1178.2,692.3 1179.0,693.6 1179.8,693.8 1180.5,694.0 1181.2,694.5 1182.0,697.2 1182.8,699.9 1183.5,699.9 1184.2,700.2 1185.0,702.2 1185.8,703.7 1186.5,700.6 1187.2,703.5 1188.0,706.4 1188.8,704.5 1189.5,705.6 1190.2,707.5 1191.0,706.3 1191.8,708.7 1192.5,706.5 1193.2,708.0 1194.0,711.2 1194.8,709.2 1195.5,705.4 1196.2,706.1 1197.0,706.3 1197.8,708.0 1198.5,706.9 1199.2,711.0 1200.0,713.8 1200.8,714.6 1201.5,712.1 1202.2,713.9 1203.0,714.9 1203.8,715.2 1204.5,720.0 1205.2,717.5 1206.0,717.9 1206.8,720.5 1207.5,720.8 1208.2,723.0 1209.0,723.3 1209.8,721.2 1210.5,718.7 1211.2,723.2 1212.0,723.8 1212.8,725.6 1213.5,721.0 1214.2,722.0 1215.0,726.4 1215.8,726.8 1216.5,726.8 1217.2,725.3 1218.0,727.7 1218.8,725.4 1219.5,724.8 1220.2,727.0 1221.0,727.7 1221.8,729.2 1222.5,730.0 1223.2,726.3 1224.0,729.7 1224.8,730.9 1225.5,729.2 1226.2,731.5 1227.0,732.9 1227.8,734.4 1228.5,733.4 1229.2,734.6 1230.0,734.8 1230.8,737.8 1231.5,737.7 1232.2,738.2 1233.0,740.9 1233.8,740.6 1234.5,740.1 1235.2,744.3 1236.0,744.9 1236.8,745.1 1237.5,744.0 1238.2,747.8 1239.0,746.4 1239.8,745.5 1240.5,748.8 1241.2,751.6 1242.0,748.4 1242.8,749.7 1243.5,750.6 1244.2,748.9 1245.0,748.1 1245.8,748.4 1246.5,749.0 1247.2,747.4 1248.0,748.5 1248.8,748.6 1249.5,747.2 1250.2,748.6 1251.0,748.9 1251.8,748.7 1252.5,750.0 1253.2,751.4 1254.0,752.2 1254.8,753.1 1255.5,753.1 1256.2,755.7 1257.0,757.6 1257.8,758.5 1258.5,757.7 1259.2,760.1 1260.0,760.5 1260.8,758.9 1261.5,761.2 1262.2,760.6 1263.0,760.7 1263.8,761.9 1264.5,761.7 1265.2,759.5 1266.0,763.0 1266.8,761.6 1267.5,763.3 1268.2,764.7 1269.0,764.0 1269.8,764.6 1270.5,766.3 1271.2,767.6 1272.0,766.9 1272.8,768.0 1273.5,770.3 1274.2,772.6 1275.0,771.5 1275.8,773.5 1276.5,772.4 1277.2,774.0 1278.0,774.4 1278.8,773.0 1279.5,774.8 1280.2,774.8 1281.0,772.2 1281.8,775.5 1282.5,776.2 1283.2,776.4 1284.0,776.7 1284.8,775.2 1285.5,776.0 1286.2,776.9 1287.0,776.3 1287.8,777.1 1288.5,779.4 1289.2,777.2 1290.0,778.1 1290.8,781.0 1291.5,779.0 1292.2,778.3 1293.0,780.0 1293.8,780.3 1294.5,780.5 1295.2,778.7 1296.0,781.8 1296.8,782.7 1297.5,785.4 1298.2,784.6 1299.0,784.0 1299.8,785.7 1300.5,785.2 1301.2,783.5 1302.0,784.6 1302.8,787.2 1303.5,787.2 1304.2,788.1 1305.0,787.4 1305.8,790.0 1306.5,788.3 1307.2,792.8 1308.0,791.9 1308.8,794.0 1309.5,795.8 1310.2,794.1 1311.0,797.2 1311.8,796.3 1312.5,797.4 1313.2,795.8 1314.0,795.6 1314.8,797.9 1315.5,797.0 1316.2,796.7 1317.0,795.6 1317.8,798.3 1318.5,796.7 1319.2,796.9 1320.0,796.5 1320.8,797.5 1321.5,798.5 1322.2,798.2 1323.0,798.5 1323.8,798.4 1324.5,801.0 1325.2,801.5 1326.0,799.8 1326.8,799.6 1327.5,801.1 1328.2,799.5 1329.0,801.9 1329.8,802.3 1330.5,802.5 1331.2,804.4 1332.0,804.8 1332.8,803.4 1333.5,802.7 1334.2,804.2 1335.0,804.4 1335.8,802.1 1336.5,802.7 1337.2,803.2 1338.0,801.9 1338.8,802.5 1339.5,805.5 1340.2,802.6 1341.0,804.9 1341.8,803.2 1342.5,805.4 1343.2,805.6 1344.0,807.0 1344.8,805.6 1345.5,808.2 1346.2,808.1 1347.0,810.4 1347.8,811.2 1348.5,811.5 1349.2,812.1 1350.0,813.0 1350.8,814.0 1351.5,813.2 1352.2,813.3 1353.0,813.1 1353.8,812.7 1354.5,814.8 1355.2,812.4 1356.0,815.0 1356.8,814.4 1357.5,812.1 1358.2,811.9 1359.0,813.8 1359.8,812.7 1360.5,813.9 1361.2,814.7 1362.0,814.0 1362.8,813.4 1363.5,813.3 1364.2,814.9 1365.0,813.0 1365.8,814.9 1366.5,815.1 1367.2,812.7 1368.0,813.2 1368.8,814.6 1369.5,812.1 1370.2,813.1 1371.0,813.6 1371.8,811.5 1372.5,812.8 1373.2,813.1 1374.0,813.1 1374.8,815.8 1375.5,814.8 1376.2,817.8 1377.0,816.9 1377.8,816.2 1378.5,817.8 1379.2,817.5 1380.0,819.6 1380.8,820.1 1381.5,819.0 1382.2,820.4 1383.0,821.9 1383.8,822.2 1384.5,821.4 1385.2,823.5 1386.0,824.0 1386.8,821.6 1387.5,824.5 1388.2,821.5 1389.0,823.4 1389.8,823.2 1390.5,823.5 1391.2,824.4 1392.0,823.3 1392.8,824.5 1393.5,826.4 1394.2,825.9 1395.0,827.3 1395.8,827.3 1396.5,825.6 1397.2,829.2 1398.0,828.9 1398.8,829.3 1399.5,828.9 1400.2,829.3 1401.0,829.4 1401.8,830.7 1402.5,831.5 1403.2,831.6 1404.0,831.7 1404.8,830.2 1405.5,831.3 1406.2,831.4 1407.0,832.4 1407.8,831.9 1408.5,832.0 1409.2,832.5 1410.0,832.1 1410.8,832.4 1411.5,833.7 1412.2,832.7 1413.0,832.1 1413.8,833.5 1414.5,834.0 1415.2,834.2 1416.0,832.9 1416.8,835.2 1417.5,834.8 1418.2,835.3 1419.0,835.6 1419.8,836.3 1420.5,836.7 1421.2,837.9 1422.0,837.3 1422.8,837.0 1423.5,837.5 1424.2,836.8 1425.0,837.7 1425.8,836.8 1426.5,837.2 1427.2,836.1 1428.0,837.2 1428.8,836.8 1429.5,835.5 1430.2,835.8 1431.0,836.0 1431.8,834.8 1432.5,835.6 1433.2,837.6 1434.0,838.4 1434.8,839.8 1435.5,838.4 1436.2,839.9 1437.0,839.3 1437.8,843.1 1438.5,841.4 1439.2,843.0 1440.0,845.4 1440.8,845.2 1441.5,843.6 1442.2,846.1 1443.0,844.8 1443.8,843.7 1444.5,844.8 1445.2,845.2 1446.0,845.3 1446.8,843.2 1447.5,846.4 1448.2,843.8 1449.0,845.0 1449.8,846.3 1450.5,845.6 1451.2,845.4 1452.0,845.1 1452.8,846.2 1453.5,846.9 1454.2,845.6 1455.0,846.5 1455.8,846.0 1456.5,846.1 1457.2,845.0 1458.0,846.9 1458.8,847.6 1459.5,846.9 1460.2,847.9 1461.0,847.4 1461.8,848.4 1462.5,847.7 1463.2,847.5 1464.0,847.5 1464.8,848.1 1465.5,848.4"/>
<polyline stroke="#00ffff" points="255.0,897.3 255.8,897.3 256.5,897.3 257.2,897.3 258.0,897.3 258.8,897.3 259.5,897.3 260.2,897.3 261.0,897.3 261.8,897.3 262.5,897.3 263.2,897.3 264.0,897.3 264.8,897.3 265.5,897.3 266.2,897.2 267.0,897.2 267.8,897.2 268.5,897.2 269.2,897.2 270.0,897.2 270.8,897.2 271.5,897.2 272.2,897.2 273.0,897.2 273.8,897.2 274.5,897.2 275.2,897.2 276.0,897.2 276.8,897.2 277.5,897.2 278.2,897.2 279.0,897.2 279.8,897.2 280.5,897.2 281.2,897.2 282.0,897.2 282.8,897.2 283.5,897.2 284.2,897.2 285.0,897.2 285.8,897.2 286.5,897.2 287.2,897.2 288.0,897.2 288.8,897.1 289.5,897.1 290.2,897.1 291.0,897.1 291.8,897.1 292.5,897.1 293.2,897.1 294.0,897.1 294.8,897.1 295.5,897.1 296.2,897.1 297.0,897.1 297.8,897.1 298.5,897.1 299.2,897.1 300.0,897.1 300.8,897.0 301.5,897.0 302.2,896.9 303.0,896.9 303.8,896.8 304.5,896.7 305.2,896.6 306.0,896.6 306.8,896.5 307.5,896.4 308.2,896.4 309.0,896.3 309.8,896.2 310.5,896.2 311.2,896.0 312.0,895.9 312.8,895.9 313.5,896.0 314.2,895.8 315.0,895.7 315.8,895.6 316.5,895.7 317.2,895.5 318.0,895.4 318.8,895.5 319.5,895.2 320.2,895.2 321.0,895.2 321.8,895.0 322.5,895.0 323.2,895.0 324.0,894.8 324.8,894.6 325.5,894.5 326.2,894.5 327.0,894.4 327.8,894.4 328.5,894.3 329.2,894.2 330.0,894.1 330.8,894.0 331.5,894.0 332.2,893.8 333.0,893.8 333.8,894.0 334.5,893.7 335.2,893.3 336.0,893.6 336.8,893.4 337.5,893.1 338.2,893.2 339.0,893.0 339.8,892.8 340.5,892.7 341.2,892.6 342.0,892.6 342.8,892.7 343.5,892.4 344.2,892.4 345.0,892.5 345.8,891.9 346.5,892.0 347.2,891.9 348.0,891.5 348.8,891.3 349.5,891.3 350.2,891.2 351.0,890.8 351.8,890.7 352.5,890.6 353.2,890.3 354.0,890.2 354.8,890.0 355.5,889.8 356.2,889.8 357.0,889.4 357.8,889.1 358.5,889.0 359.2,888.4 360.0,888.3 360.8,888.4 361.5,888.1 362.2,888.1 363.0,887.6 363.8,887.0 364.5,887.6 365.2,887.2 366.0,886.5 366.8,886.7 367.5,886.0 368.2,885.1 369.0,885.0 369.8,884.6 370.5,884.7 371.2,883.7 372.0,883.4 372.8,883.0 373.5,882.6 374.2,882.0 375.0,881.9 375.8,881.7 376.5,881.4 377.2,880.7 378.0,880.4 378.8,880.5 379.5,880.1 380.2,879.9 381.0,879.3 381.8,880.2 382.5,879.6 383.2,878.7 384.0,878.7 384.8,878.2 385.5,876.4 386.2,876.4 387.0,875.9 387.8,875.6 388.5,874.8 389.2,874.1 390.0,873.6 390.8,873.8 391.5,873.3 392.2,871.8 393.0,871.1 393.8,871.9 394.5,870.0 395.2,869.7 396.0,869.4 396.8,869.0 397.5,868.7 398.2,867.7 399.0,866.5 399.8,866.3 400.5,865.4 401.2,865.4 402.0,863.8 402.8,862.5 403.5,861.9 404.2,862.2 405.0,860.6 405.8,859.2 406.5,859.1 407.2,858.6 408.0,858.4 408.8,856.7 409.5,856.7 410.2,855.9 411.0,854.4 411.8,853.9 412.5,854.0 413.2,853.2 414.0,852.0 414.8,851.0 415.5,850.6 416.2,849.1 417.0,848.4 417.8,847.2 418.5,846.8 419.2,845.9 420.0,846.4 420.8,843.7 421.5,843.5 422.2,842.4 423.0,840.5 423.8,840.2 424.5,837.3 425.2,837.5 426.0,836.9 426.8,833.9 427.5,833.6 428.2,833.8 429.0,831.9 429.8,830.4 430.5,829.7 431.2,828.6 432.0,828.3 432.8,827.0 433.5,825.5 434.2,824.2 435.0,823.4 435.8,823.2 436.5,821.4 437.2,820.4 438.0,818.7 438.8,816.8 439.5,816.0 440.2,815.8 441.0,814.3 441.8,812.4 442.5,811.1 443.2,811.3 444.0,810.2 444.8,809.3 445.5,808.1 446.2,807.3 447.0,806.1 447.8,805.3 448.5,804.0 449.2,803.1 450.0,801.4 450.8,799.4 451.5,798.3 452.2,797.5 453.0,795.6 453.8,795.0 454.5,794.2 455.2,791.5 456.0,789.5 456.8,790.5 457.5,788.4 458.2,787.6 459.0,784.4 459.8,785.1 460.5,782.7 461.2,780.4 462.0,778.6 462.8,777.3 463.5,775.6 464.2,774.2 465.0,772.3 465.8,772.9 466.5,770.6 467.2,769.4 468.0,768.2 468.8,764.9 469.5,766.0 470.2,763.7 471.0,761.9 471.8,760.3 472.5,757.5 473.2,757.2 474.0,754.0 474.8,751.7 475.5,749.6 476.2,748.3 477.0,746.7 477.8,743.3 478.5,740.9 479.2,742.0 480.0,738.8 480.8,739.6 481.5,737.3 482.2,735.4 483.0,734.2 483.8,734.0 484.5,733.2 485.2,730.8 486.0,730.5 486.8,730.2 487.5,726.7 488.2,724.4 489.0,723.1 489.8,721.4 490.5,720.8 491.2,719.3 492.0,717.4 492.8,717.9 493.5,713.6 494.2,713.5 495.0,715.5 495.8,713.2 496.5,711.4 497.2,709.7 498.0,708.6 498.8,705.0 499.5,702.2 500.2,698.5 501.0,697.3 501.8,694.8 502.5,692.9 503.2,691.1 504.0,689.9 504.8,687.8 505.5,687.2 506.2,683.5 507.0,683.8 507.8,685.0 508.5,682.1 509.2,682.4 510.0,681.4 510.8,680.7 511.5,679.1 512.2,675.9 513.0,676.1 513.8,675.0 514.5,672.8 515.2,673.1 516.0,671.0 516.8,669.3 517.5,670.1 518.2,668.6 519.0,666.6 519.8,665.1 520.5,664.3 521.2,663.2 522.0,662.0 522.8,660.8 523.5,658.0 524.2,656.6 525.0,654.4 525.8,651.8 526.5,648.4 527.2,646.5 528.0,645.8 528.8,643.1 529.5,641.3 530.2,636.5 531.0,634.4 531.8,636.5 532.5,635.2 533.2,635.0 534.0,632.9 534.8,630.9 535.5,629.3 536.2,626.2 537.0,627.6 537.8,624.1 538.5,623.3 539.2,620.8 540.0,618.8 540.8,617.4 541.5,613.6 542.2,612.3 543.0,610.5 543.8,609.9 544.5,611.1 545.2,607.4 546.0,608.0 546.8,606.3 547.5,605.0 548.2,603.8 549.0,599.7 549.8,598.0 550.5,596.1 551.2,589.8 552.0,588.2 552.8,585.3 553.5,584.5 554.2,580.6 555.0,581.9 555.8,577.2 556.5,573.6 557.2,576.9 558.0,575.0 558.8,573.6 559.5,572.8 560.2,570.8 561.0,570.2 561.8,570.6 562.5,570.1 563.2,569.3 564.0,567.5 564.8,565.7 565.5,565.2 566.2,566.0 567.0,565.5 567.8,562.2 568.5,561.1 569.2,562.5 570.0,560.9 570.8,560.0 571.5,556.4 572.2,556.5 573.0,554.4 573.8,553.5 574.5,549.0 575.2,551.1 576.0,547.9 576.8,546.2 577.5,542.1 578.2,541.8 579.0,541.8 579.8,536.0 580.5,536.7 581.2,535.3 582.0,531.9 582.8,532.7 583.5,529.9 584.2,530.8 585.0,528.6 585.8,527.0 586.5,528.2 587.2,525.3 588.0,524.8 588.8,520.0 589.5,519.0 590.2,519.2 591.0,517.4 591.8,514.2 592.5,513.5 593.2,509.1 594.0,507.6 594.8,501.1 595.5,498.8 596.2,496.1 597.0,494.9 597.8,495.0 598.5,496.6 599.2,491.4 600.0,491.1 600.8,492.7 601.5,489.8 602.2,492.2 603.0,489.2 603.8,488.3 604.5,487.9 605.2,489.2 606.0,486.9 606.8,485.4 607.5,483.6 608.2,479.5 609.0,479.2 609.8,481.3 610.5,479.0 611.2,477.1 612.0,475.9 612.8,472.8 613.5,472.8 614.2,469.7 615.0,470.3 615.8,467.3 616.5,466.8 617.2,466.5 618.0,464.0 618.8,464.2 619.5,462.6 620.2,461.5 621.0,461.9 621.8,456.7 622.5,455.5 623.2,457.9 624.0,457.4 624.8,458.0 625.5,455.1 626.2,454.3 627.0,450.6 627.8,449.6 628.5,447.8 629.2,444.9 630.0,445.0 630.8,446.1 631.5,446.5 632.2,441.4 633.0,445.9 633.8,446.0 634.5,445.2 635.2,443.4 636.0,438.4 636.8,430.9 637.5,427.9 638.2,420.0 639.0,418.6 639.8,420.1 640.5,421.8 641.2,416.8 642.0,416.2 642.8,415.9 643.5,421.2 644.2,417.2 645.0,417.1 645.8,415.5 646.5,414.8 647.2,412.6 648.0,415.6 648.8,415.3 649.5,411.3 650.2,413.4 651.0,414.8 651.8,417.0 652.5,418.4 653.2,420.8 654.0,421.5 654.8,419.9 655.5,419.1 656.2,413.9 657.0,413.7 657.8,415.2 658.5,412.6 659.2,410.9 660.0,406.5 660.8,405.0 661.5,406.5 662.2,403.1 663.0,399.4 663.8,396.5 664.5,391.6 665.2,393.1 666.0,392.3 666.8,391.4 667.5,387.9 668.2,389.3 669.0,389.8 669.8,395.4 670.5,398.1 671.2,396.2 672.0,399.5 672.8,400.9 673.5,399.7 674.2,396.5 675.0,399.8 675.8,401.2 676.5,397.7 677.2,398.6 678.0,394.5 678.8,401.7 679.5,400.3 680.2,398.8 681.0,397.6 681.8,396.2 682.5,396.4 683.2,395.2 684.0,394.6 684.8,394.2 685.5,393.7 686.2,395.3 687.0,389.6 687.8,391.7 688.5,389.5 689.2,387.9 690.0,385.1 690.8,389.2 691.5,385.8 692.2,385.4 693.0,386.7 693.8,383.4 694.5,384.4 695.2,383.5 696.0,384.1 696.8,383.3 697.5,379.1 698.2,380.9 699.0,378.1 699.8,377.3 700.5,375.6 701.2,376.5 702.0,373.6 702.8,376.5 703.5,378.5 704.2,376.5 705.0,380.8 705.8,376.7 706.5,378.7 707.2,378.0 708.0,378.3 708.8,377.8 709.5,379.1 710.2,380.3 711.0,379.4 711.8,382.6 712.5,384.0 713.2,379.4 714.0,383.6 714.8,382.9 715.5,383.4 716.2,386.9 717.0,384.1 717.8,381.9 718.5,380.9 719.2,376.3 720.0,380.4 720.8,377.2 721.5,378.0 722.2,377.1 723.0,378.7 723.8,382.0 724.5,381.7 725.2,383.7 726.0,382.7 726.8,385.4 727.5,387.4 728.2,385.1 729.0,391.3 729.8,387.4 730.5,387.0 731.2,392.4 732.0,393.7 732.8,389.7 733.5,390.4 734.2,395.2 735.0,388.9 735.8,384.2 736.5,385.1 737.2,388.1 738.0,384.6 738.8,383.4 739.5,384.5 740.2,384.4 741.0,383.5 741.8,382.1 742.5,386.2 743.2,384.4 744.0,386.9 744.8,389.6 745.5,386.5 746.2,384.7 747.0,383.6 747.8,383.7 748.5,383.0 749.2,378.2 750.0,379.6 750.8,381.1 751.5,379.1 752.2,376.7 753.0,377.0 753.8,374.8 754.5,377.1 755.2,381.2 756.0,378.5 756.8,377.4 757.5,378.0 758.2,378.9 759.0,379.0 759.8,379.3 760.5,379.5 761.2,382.8 762.0,385.2 762.8,382.7 763.5,383.6 764.2,387.4 765.0,382.8 765.8,383.0 766.5,382.1 767.2,381.7 768.0,379.8 768.8,377.9 769.5,380.4 770.2,378.5 771.0,378.2 771.8,378.4 772.5,383.5 773.2,380.0 774.0,384.2 774.8,385.2 775.5,385.9 776.2,384.2 777.0,383.4 777.8,384.3 778.5,383.1 779.2,381.8 780.0,385.9 780.8,382.2 781.5,386.5 782.2,384.3 783.0,382.5 783.8,384.2 784.5,386.4 785.2,383.0 786.0,384.7 786.8,385.4 787.5,388.3 788.2,389.6 789.0,389.9 789.8,389.5 790.5,390.7 791.2,394.3 792.0,394.9 792.8,394.1 793.5,392.5 794.2,396.4 795.0,395.5 795.8,395.1 796.5,397.1 797.2,395.3 798.0,392.0 798.8,391.6 799.5,395.1 800.2,392.8 801.0,393.5 801.8,391.5 802.5,389.9 803.2,392.2 804.0,394.5 804.8,392.7 805.5,390.5 806.2,392.1 807.0,392.0 807.8,393.3 808.5,394.9 809.2,396.7 810.0,394.1 810.8,393.2 811.5,394.3 812.2,394.4 813.0,394.0 813.8,395.0 814.5,395.3 815.2,393.7 816.0,396.8 816.8,395.6 817.5,394.9 818.2,397.6 819.0,396.3 819.8,400.1 820.5,398.3 821.2,397.9 822.0,396.8 822.8,397.6 823.5,399.8 824.2,397.6 825.0,400.1 825.8,395.7 826.5,399.9 827.2,402.3 828.0,403.0 828.8,403.9 829.5,407.1 830.2,405.5 831.0,406.8 831.8,410.0 832.5,413.3 833.2,413.4 834.0,413.1 834.8,414.6 835.5,415.6 836.2,413.7 837.0,411.9 837.8,415.5 838.5,415.5 839.2,417.7 840.0,417.1 840.8,417.2 841.5,418.9 842.2,418.0 843.0,417.4 843.8,419.7 844.5,416.0 845.2,415.8 846.0,418.0 846.8,415.3 847.5,416.5 848.2,423.2 849.0,423.7 849.8,426.1 850.5,428.2 851.2,430.5 852.0,429.1 852.8,430.5 853.5,429.6 854.2,432.3 855.0,433.2 855.8,432.9 856.5,435.4 857.2,439.7 858.0,434.1 858.8,437.9 859.5,438.9 860.2,440.5 861.0,439.1 861.8,443.7 862.5,444.4 863.2,444.7 864.0,445.9 864.8,448.3 865.5,450.8 866.2,452.1 867.0,454.9 867.8,451.4 868.5,453.5 869.2,452.5 870.0,454.9 870.8,454.5 871.5,454.0 872.2,453.5 873.0,455.0 873.8,457.1 874.5,459.7 875.2,459.9 876.0,458.2 876.8,460.6 877.5,462.7 878.2,463.8 879.0,465.4 879.8,467.7 880.5,468.2 881.2,467.8 882.0,466.4 882.8,469.3 883.5,467.7 884.2,470.4 885.0,471.6 885.8,469.5 886.5,471.7 887.2,471.9 888.0,475.7 888.8,473.9 889.5,471.1 890.2,475.6 891.0,476.7 891.8,476.9 892.5,477.7 893.2,480.3 894.0,481.5 894.8,482.3 895.5,481.3 896.2,483.5 897.0,482.7 897.8,483.9 898.5,486.5 899.2,487.2 900.0,489.5 900.8,495.2 901.5,493.8 902.2,493.2 903.0,492.8 903.8,496.1 904.5,496.7 905.2,497.0 906.0,502.7 906.8,502.2 907.5,504.4 908.2,509.1 909.0,505.9 909.8,506.5 910.5,507.7 911.2,507.6 912.0,507.7 912.8,509.4 913.5,512.2 914.2,511.1 915.0,510.3 915.8,511.4 916.5,512.5 917.2,514.9 918.0,516.4 918.8,517.6 919.5,519.9 920.2,519.2 921.0,521.9 921.8,522.5 922.5,524.3 923.2,521.9 924.0,527.5 924.8,524.9 925.5,526.8 926.2,530.7 927.0,530.3 927.8,534.6 928.5,533.1 929.2,531.8 930.0,533.9 930.8,533.6 931.5,536.7 932.2,537.2 933.0,536.4 933.8,535.3 934.5,536.4 935.2,538.2 936.0,536.0 936.8,536.5 937.5,539.2 938.2,539.4 939.0,538.5 939.8,539.0 940.5,537.9 941.2,543.3 942.0,542.6 942.8,541.9 943.5,543.5 944.2,544.9 945.0,549.6 945.8,549.3 946.5,547.7 947.2,553.1 948.0,553.6 948.8,551.4 949.5,550.4 950.2,556.2 951.0,554.9 951.8,556.5 952.5,556.8 953.2,560.1 954.0,561.2 954.8,561.2 955.5,560.8 956.2,562.3 957.0,563.6 957.8,561.6 958.5,566.2 959.2,565.0 960.0,566.2 960.8,566.5 961.5,567.9 962.2,568.4 963.0,570.3 963.8,567.3 964.5,567.0 965.2,568.7 966.0,568.1 966.8,570.4 967.5,568.6 968.2,570.2 969.0,571.7 969.8,572.1 970.5,571.4 971.2,573.4 972.0,573.6 972.8,570.2 973.5,574.0 974.2,574.8 975.0,575.2 975.8,575.8 976.5,577.7 977.2,579.2 978.0,580.1 978.8,582.6 979.5,583.2 980.2,582.2 981.0,583.1 981.8,586.8 982.5,586.5 983.2,589.2 984.0,591.3 984.8,593.6 985.5,594.6 986.2,597.4 987.0,596.6 987.8,599.7 988.5,599.7 989.2,602.3 990.0,601.8 990.8,600.1 991.5,597.6 992.2,601.7 993.0,600.6 993.8,600.0 994.5,598.5 995.2,598.6 996.0,599.6 996.8,600.3 997.5,602.9 998.2,602.8 999.0,602.9 999.8,605.9 1000.5,605.5 1001.2,607.8 1002.0,606.5 1002.8,609.5 1003.5,611.8 1004.2,611.3 1005.0,612.7 1005.8,614.1 1006.5,614.0 1007.2,616.7 1008.0,614.8 1008.8,615.5 1009.5,616.1 1010.2,614.5 1011.0,615.6 1011.8,618.7 1012.5,618.4 1013.2,621.6 1014.0,620.9 1014.8,621.9 1015.5,624.4 1016.2,624.6 1017.0,627.3 1017.8,625.2 1018.5,628.1 1019.2,629.4 1020.0,630.3 1020.8,631.8 1021.5,632.4 1022.2,631.9 1023.0,632.0 1023.8,634.6 1024.5,634.2 1025.2,636.0 1026.0,637.3 1026.8,636.7 1027.5,636.1 1028.2,637.6 1029.0,639.6 1029.8,639.2 1030.5,641.6 1031.2,641.0 1032.0,641.7 1032.8,641.3 1033.5,642.4 1034.2,644.3 1035.0,643.1 1035.8,643.6 1036.5,643.6 1037.2,645.9 1038.0,643.7 1038.8,645.2 1039.5,647.5 1040.2,648.6 1041.0,647.2 1041.8,649.5 1042.5,647.3 1043.2,651.6 1044.0,652.3 1044.8,651.8 1045.5,652.3 1046.2,655.0 1047.0,657.0 1047.8,658.3 1048.5,659.2 1049.2,661.2 1050.0,661.9 1050.8,660.0 1051.5,661.6 1052.2,661.9 1053.0,664.1 1053.8,662.8 1054.5,664.9 1055.2,664.4 1056.0,667.3 1056.8,665.1 1057.5,665.6 1058.2,666.1 1059.0,667.1 1059.8,670.4 1060.5,667.9 1061.2,668.3 1062.0,669.7 1062.8,671.4 1063.5,670.4 1064.2,673.1 1065.0,673.8 1065.8,673.5 1066.5,674.2 1067.2,674.3 1068.0,675.7 1068.8,676.0 1069.5,679.1 1070.2,680.5 1071.0,679.3 1071.8,680.5 1072.5,679.4 1073.2,681.8 1074.0,683.6 1074.8,684.4 1075.5,685.2 1076.2,686.5 1077.0,685.7 1077.8,685.2 1078.5,687.3 1079.2,683.6 1080.0,684.4 1080.8,684.9 1081.5,684.9 1082.2,684.8 1083.0,685.4 1083.8,684.9 1084.5,685.6 1085.2,686.2 1086.0,685.6 1086.8,685.8 1087.5,684.6 1088.2,685.1 1089.0,686.7 1089.8,688.7 1090.5,688.9 1091.2,690.4 1092.0,691.0 1092.8,691.9 1093.5,690.7 1094.2,693.5 1095.0,693.8 1095.8,695.9 1096.5,695.1 1097.2,695.6 1098.0,695.9 1098.8,696.9 1099.5,695.8 1100.2,698.0 1101.0,699.0 1101.8,700.8 1102.5,699.8 1103.2,701.4 1104.0,703.9 1104.8,702.2 1105.5,704.4 1106.2,703.7 1107.0,704.9 1107.8,706.2 1108.5,707.4 1109.2,706.8 1110.0,707.0 1110.8,710.3 1111.5,709.7 1112.2,711.0 1113.0,711.9 1113.8,712.5 1114.5,712.3 1115.2,713.1 1116.0,712.6 1116.8,715.4 1117.5,715.8 1118.2,717.3 1119.0,720.1 1119.8,720.0 1120.5,720.5 1121.2,720.2 1122.0,723.2 1122.8,725.0 1123.5,723.8 1124.2,725.7 1125.0,724.7 1125.8,724.9 1126.5,724.5 1127.2,723.2 1128.0,724.1 1128.8,723.0 1129.5,725.7 1130.2,725.2 1131.0,724.2 1131.8,724.2 1132.5,723.9 1133.2,723.9 1134.0,723.9 1134.8,724.4 1135.5,725.4 1136.2,725.2 1137.0,726.5 1137.8,727.7 1138.5,729.4 1139.2,729.8 1140.0,732.8 1140.8,731.8 1141.5,732.6 1142.2,734.0 1143.0,734.6 1143.8,735.3 1144.5,734.5 1145.2,733.1 1146.0,733.5 1146.8,734.6 1147.5,733.8 1148.2,734.3 1149.0,733.5 1149.8,735.1 1150.5,734.9 1151.2,734.6 1152.0,733.8 1152.8,732.5 1153.5,733.2 1154.2,735.2 1155.0,735.9 1155.8,733.2 1156.5,735.8 1157.2,737.7 1158.0,738.0 1158.8,737.2 1159.5,738.6 1160.2,738.5 1161.0,738.8 1161.8,740.6 1162.5,741.1 1163.2,740.2 1164.0,740.4 1164.8,740.6 1165.5,741.0 1166.2,744.0 1167.0,745.0 1167.8,744.1 1168.5,745.4 1169.2,744.4 1170.0,745.5 1170.8,746.9 1171.5,746.9 1172.2,747.1 1173.0,746.3 1173.8,747.1 1174.5,748.6 1175.2,749.1 1176.0,750.2 1176.8,750.3 1177.5,751.3 1178.2,752.2 1179.0,753.2 1179.8,753.4 1180.5,753.5 1181.2,754.4 1182.0,756.0 1182.8,755.7 1183.5,755.5 1184.2,755.9 1185.0,757.4 1185.8,758.1 1186.5,759.1 1187.2,758.2 1188.0,760.0 1188.8,759.0 1189.5,759.5 1190.2,759.7 1191.0,761.0 1191.8,761.9 1192.5,761.4 1193.2,761.5 1194.0,761.0 1194.8,763.0 1195.5,763.3 1196.2,764.2 1197.0,764.6 1197.8,765.1 1198.5,766.2 1199.2,767.7 1200.0,768.8 1200.8,768.8 1201.5,769.8 1202.2,770.1 1203.0,770.9 1203.8,770.7 1204.5,773.2 1205.2,773.7 1206.0,775.2 1206.8,774.0 1207.5,775.0 1208.2,774.6 1209.0,776.0 1209.8,776.1 1210.5,777.2 1211.2,777.0 1212.0,778.0 1212.8,777.6 1213.5,778.8 1214.2,778.6 1215.0,778.9 1215.8,779.8 1216.5,780.4 1217.2,779.5 1218.0,780.1 1218.8,782.1 1219.5,782.7 1220.2,781.9 1221.0,782.9 1221.8,784.4 1222.5,786.0 1223.2,786.6 1224.0,788.0 1224.8,788.8 1225.5,790.5 1226.2,788.4 1227.0,790.2 1227.8,791.5 1228.5,790.2 1229.2,790.4 1230.0,791.9 1230.8,792.9 1231.5,793.3 1232.2,791.5 1233.0,792.2 1233.8,793.4 1234.5,793.4 1235.2,794.3 1236.0,794.5 1236.8,796.0 1237.5,795.0 1238.2,795.6 1239.0,795.8 1239.8,796.9 1240.5,795.6 1241.2,797.0 1242.0,796.5 1242.8,796.3 1243.5,798.4 1244.2,798.1 1245.0,798.9 1245.8,798.3 1246.5,798.7 1247.2,798.6 1248.0,799.1 1248.8,798.6 1249.5,800.2 1250.2,798.6 1251.0,800.6 1251.8,799.5 1252.5,800.4 1253.2,800.1 1254.0,800.5 1254.8,801.4 1255.5,800.6 1256.2,800.4 1257.0,801.7 1257.8,802.5 1258.5,800.8 1259.2,803.7 1260.0,804.3 1260.8,802.8 1261.5,804.4 1262.2,805.6 1263.0,804.7 1263.8,805.7 1264.5,806.2 1265.2,807.3 1266.0,808.0 1266.8,807.3 1267.5,807.5 1268.2,808.2 1269.0,808.0 1269.8,807.7 1270.5,808.8 1271.2,807.0 1272.0,808.2 1272.8,807.9 1273.5,808.0 1274.2,808.6 1275.0,808.6 1275.8,810.3 1276.5,809.2 1277.2,809.3 1278.0,810.8 1278.8,811.0 1279.5,809.7 1280.2,811.6 1281.0,812.6 1281.8,812.4 1282.5,813.6 1283.2,813.7 1284.0,814.9 1284.8,814.2 1285.5,814.6 1286.2,816.1 1287.0,817.2 1287.8,818.4 1288.5,817.8 1289.2,818.0 1290.0,819.5 1290.8,819.4 1291.5,820.9 1292.2,820.2 1293.0,819.5 1293.8,820.7 1294.5,821.0 1295.2,821.2 1296.0,821.7 1296.8,821.8 1297.5,822.2 1298.2,822.2 1299.0,822.9 1299.8,823.0 1300.5,823.0 1301.2,823.1 1302.0,822.0 1302.8,822.2 1303.5,822.8 1304.2,823.7 1305.0,822.9 1305.8,823.7 1306.5,824.4 1307.2,825.7 1308.0,824.8 1308.8,824.6 1309.5,825.8 1310.2,825.5 1311.0,825.4 1311.8,826.5 1312.5,825.5 1313.2,826.4 1314.0,826.5 1314.8,827.2 1315.5,826.2 1316.2,826.4 1317.0,827.1 1317.8,827.4 1318.5,827.9 1319.2,828.0 1320.0,828.8 1320.8,829.2 1321.5,829.2 1322.2,828.8 1323.0,830.4 1323.8,829.1 1324.5,830.2 1325.2,831.1 1326.0,830.5 1326.8,831.9 1327.5,832.6 1328.2,832.7 1329.0,832.3 1329.8,832.9 1330.5,832.4 1331.2,833.2 1332.0,833.4 1332.8,833.3 1333.5,833.5 1334.2,833.5 1335.0,832.6 1335.8,834.1 1336.5,834.2 1337.2,835.4 1338.0,834.8 1338.8,834.5 1339.5,835.2 1340.2,835.2 1341.0,835.0 1341.8,834.9 1342.5,834.4 1343.2,835.5 1344.0,836.5 1344.8,834.7 1345.5,835.4 1346.2,836.7 1347.0,836.7 1347.8,837.1 1348.5,836.1 1349.2,837.1 1350.0,838.0 1350.8,838.4 1351.5,838.5 1352.2,838.2 1353.0,839.2 1353.8,838.6 1354.5,839.0 1355.2,839.2 1356.0,840.9 1356.8,840.2 1357.5,840.8 1358.2,839.8 1359.0,841.9 1359.8,841.8 1360.5,840.9 1361.2,841.1 1362.0,843.1 1362.8,841.9 1363.5,843.7 1364.2,842.6 1365.0,841.8 1365.8,843.9 1366.5,843.8 1367.2,844.2 1368.0,843.7 1368.8,844.1 1369.5,845.0 1370.2,844.3 1371.0,843.9 1371.8,845.6 1372.5,845.0 1373.2,846.2 1374.0,845.6 1374.8,845.8 1375.5,846.1 1376.2,845.3 1377.0,847.3 1377.8,846.6 1378.5,847.0 1379.2,848.1 1380.0,847.6 1380.8,848.3 1381.5,848.2 1382.2,848.7 1383.0,848.6 1383.8,849.3 1384.5,848.8 1385.2,849.4 1386.0,849.0 1386.8,850.2 1387.5,848.6 1388.2,850.0 1389.0,850.2 1389.8,850.3 1390.5,850.3 1391.2,851.1 1392.0,851.7 1392.8,850.5 1393.5,850.0 1394.2,850.6 1395.0,850.8 1395.8,851.3 1396.5,851.5 1397.2,852.2 1398.0,851.6 1398.8,852.0 1399.5,852.2 1400.2,851.9 1401.0,852.4 1401.8,854.1 1402.5,852.9 1403.2,852.7 1404.0,852.4 1404.8,854.1 1405.5,853.7 1406.2,853.8 1407.0,855.5 1407.8,855.2 1408.5,854.0 1409.2,854.8 1410.0,855.7 1410.8,855.8 1411.5,855.1 1412.2,856.7 1413.0,857.0 1413.8,855.8 1414.5,855.7 1415.2,856.0 1416.0,857.1 1416.8,857.5 1417.5,857.2 1418.2,857.0 1419.0,857.4 1419.8,857.8 1420.5,857.2 1421.2,857.1 1422.0,858.0 1422.8,858.7 1423.5,858.4 1424.2,858.6 1425.0,858.3 1425.8,859.2 1426.5,858.2 1427.2,859.1 1428.0,859.0 1428.8,859.3 1429.5,859.1 1430.2,860.0 1431.0,859.8 1431.8,859.7 1432.5,860.4 1433.2,860.2 1434.0,860.2 1434.8,860.3 1435.5,861.1 1436.2,860.4 1437.0,860.9 1437.8,861.0 1438.5,861.4 1439.2,861.4 1440.0,862.5 1440.8,861.0 1441.5,862.1 1442.2,862.0 1443.0,862.7 1443.8,861.6 1444.5,863.0 1445.2,862.1 1446.0,863.1 1446.8,863.2 1447.5,863.1 1448.2,862.9 1449.0,863.1 1449.8,863.6 1450.5,863.4 1451.2,863.0 1452.0,863.3 1452.8,864.5 1453.5,864.7 1454.2,864.7 1455.0,864.6 1455.8,865.0 1456.5,865.2 1457.2,865.3 1458.0,865.0 1458.8,865.3 1459.5,865.3 1460.2,866.0 1461.0,865.7 1461.8,866.3 1462.5,867.0 1463.2,866.5 1464.0,867.3 1464.8,867.7 1465.5,866.5"/>
</g>
<path d="M316.4,918V936 M437.3,918V927 M558.2,918V936 M679.1,918V927 M800.0,918V936 M920.9,918V927 M1041.8,918V936 M1162.7,918V927 M1283.6,918V936 M1404.5,918V927 M253,896.9H235 M253,820.3H244 M253,743.7H235 M253,667.0H244 M253,590.4H235 M253,513.8H244 M253,437.2H235 M253,360.6H244 M253,283.9H235 M253,207.3H244 M253,130.7H235 M253,54.1H244" stroke="#000" stroke-width="5" fill="none"/>
<text class="t" x="314.5" y="982.7" text-anchor="middle">360</text>
<text class="t" x="556.3" y="982.7" text-anchor="middle">400</text>
<text class="t" x="798.1" y="982.7" text-anchor="middle">440</text>
<text class="t" x="1039.9" y="982.7" text-anchor="middle">480</text>
<text class="t" x="1281.7" y="982.7" text-anchor="middle">520</text>
<text class="t" style="font-size:49.5px" x="224.8" y="909.8" text-anchor="end">0</text>
<text class="t" style="font-size:49.5px" x="224.8" y="756.6" text-anchor="end">400</text>
<text class="t" style="font-size:49.5px" x="224.8" y="603.3" text-anchor="end">800</text>
<text class="t" style="font-size:49.5px" x="224.8" y="450.1" text-anchor="end">1200</text>
<text class="t" style="font-size:49.5px" x="224.8" y="296.8" text-anchor="end">1600</text>
<text class="t" style="font-size:49.5px" x="224.8" y="143.6" text-anchor="end">2000</text>
<text class="b" id="xt" style="font-size:44px" x="692.5" y="1064.8" textLength="333" lengthAdjust="spacing">Wavelength / nm</text>
<text class="b" id="yt" style="font-size:45px" transform="translate(47.2,630) rotate(-90)" x="0" y="0" textLength="296" lengthAdjust="spacing">Flu. Int. (A.U.)</text>
<path d="M1275,15V285.5H1461.5V15" fill="none" stroke="#000" stroke-width="2"/>
<line x1="1291" y1="52.4" x2="1386.5" y2="52.4" stroke="#000000" stroke-width="6" stroke-linecap="round"/>
<line x1="1291" y1="104.5" x2="1386.5" y2="104.5" stroke="#ff0000" stroke-width="6" stroke-linecap="round"/>
<line x1="1291" y1="156.4" x2="1386.5" y2="156.4" stroke="#00ff00" stroke-width="6" stroke-linecap="round"/>
<line x1="1291" y1="208.3" x2="1386.5" y2="208.3" stroke="#0000ff" stroke-width="6" stroke-linecap="round"/>
<line x1="1291" y1="260.2" x2="1386.5" y2="260.2" stroke="#00ffff" stroke-width="6" stroke-linecap="round"/>
<text class="t" style="font-size:44px" x="1398" y="65.7">3s</text>
<text class="t" style="font-size:44px" x="1398" y="117.8">3t</text>
<text class="t" style="font-size:44px" x="1398" y="169.7">3u</text>
<text class="t" style="font-size:44px" x="1398" y="221.6">3v</text>
<text class="t" style="font-size:44px" x="1398" y="273.5">3w</text>
</svg></body></html>
